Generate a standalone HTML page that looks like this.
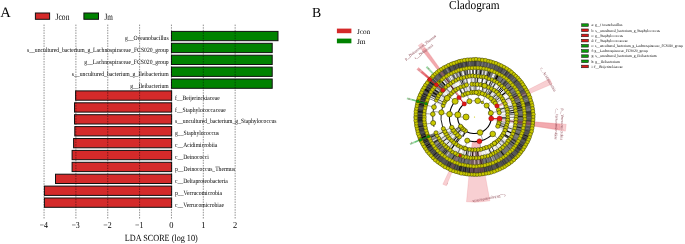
<!DOCTYPE html>
<html><head><meta charset="utf-8"><title>LEfSe</title>
<style>html,body{margin:0;padding:0;background:#fff;} svg{display:block;} text{font-family:'Liberation Serif', 'Times New Roman', serif;text-rendering:geometricPrecision;}</style>
</head><body>
<svg width="685" height="244" viewBox="0 0 685 244">
<rect width="685" height="244" fill="#fff"/>
<text x="0.30" y="16.70" font-size="14.5" text-anchor="start" fill="#000" textLength="10.60" lengthAdjust="spacingAndGlyphs">A</text>
<rect x="35.4" y="13.0" width="14.2" height="6.3" fill="#d42a2a" stroke="#111" stroke-width="1"/>
<text x="55.60" y="19.60" font-size="9.5" text-anchor="start" fill="#000" textLength="13.80" lengthAdjust="spacingAndGlyphs">Jcon</text>
<rect x="83.9" y="13.0" width="14.6" height="6.3" fill="#008200" stroke="#111" stroke-width="1"/>
<text x="104.40" y="19.60" font-size="9.5" text-anchor="start" fill="#000" textLength="8.40" lengthAdjust="spacingAndGlyphs">Jm</text>
<rect x="171.45" y="31.40" width="106.55" height="9.30" fill="#008200" stroke="#111" stroke-width="1"/>
<text x="125.10" y="40.10" font-size="6.5" text-anchor="start" fill="#000" textLength="43.50" lengthAdjust="spacingAndGlyphs">g__Oceanobacillus</text>
<rect x="171.45" y="43.30" width="100.75" height="9.30" fill="#008200" stroke="#111" stroke-width="1"/>
<text x="27.00" y="52.00" font-size="6.5" text-anchor="start" fill="#000" textLength="141.60" lengthAdjust="spacingAndGlyphs">s__uncultured_bacterium_g_Lachnospiraceae_FCS020_group</text>
<rect x="171.45" y="55.20" width="100.75" height="9.30" fill="#008200" stroke="#111" stroke-width="1"/>
<text x="84.30" y="63.90" font-size="6.5" text-anchor="start" fill="#000" textLength="84.30" lengthAdjust="spacingAndGlyphs">g__Lachnospiraceae_FCS020_group</text>
<rect x="171.45" y="67.10" width="100.75" height="9.30" fill="#008200" stroke="#111" stroke-width="1"/>
<text x="71.80" y="75.80" font-size="6.5" text-anchor="start" fill="#000" textLength="96.80" lengthAdjust="spacingAndGlyphs">s__uncultured_bacterium_g_Ileibacterium</text>
<rect x="171.45" y="79.00" width="100.75" height="9.30" fill="#008200" stroke="#111" stroke-width="1"/>
<text x="130.20" y="87.70" font-size="6.5" text-anchor="start" fill="#000" textLength="38.40" lengthAdjust="spacingAndGlyphs">g__Ileibacterium</text>
<rect x="75.60" y="90.90" width="96.05" height="9.30" fill="#d42a2a" stroke="#111" stroke-width="1"/>
<text x="175.00" y="99.60" font-size="6.5" text-anchor="start" fill="#000" textLength="44.80" lengthAdjust="spacingAndGlyphs">f__Beijerinckiaceae</text>
<rect x="74.50" y="102.80" width="97.15" height="9.30" fill="#d42a2a" stroke="#111" stroke-width="1"/>
<text x="175.00" y="111.50" font-size="6.5" text-anchor="start" fill="#000" textLength="50.70" lengthAdjust="spacingAndGlyphs">f__Staphylococcaceae</text>
<rect x="74.50" y="114.70" width="97.15" height="9.30" fill="#d42a2a" stroke="#111" stroke-width="1"/>
<text x="175.00" y="123.40" font-size="6.5" text-anchor="start" fill="#000" textLength="101.50" lengthAdjust="spacingAndGlyphs">s__uncultured_bacterium_g_Staphylococcus</text>
<rect x="74.80" y="126.60" width="96.85" height="9.30" fill="#d42a2a" stroke="#111" stroke-width="1"/>
<text x="175.00" y="135.30" font-size="6.5" text-anchor="start" fill="#000" textLength="44.00" lengthAdjust="spacingAndGlyphs">g__Staphylococcus</text>
<rect x="73.60" y="138.50" width="98.05" height="9.30" fill="#d42a2a" stroke="#111" stroke-width="1"/>
<text x="175.00" y="147.20" font-size="6.5" text-anchor="start" fill="#000" textLength="42.30" lengthAdjust="spacingAndGlyphs">c__Acidimicrobiia</text>
<rect x="72.10" y="150.40" width="99.55" height="9.30" fill="#d42a2a" stroke="#111" stroke-width="1"/>
<text x="175.00" y="159.10" font-size="6.5" text-anchor="start" fill="#000" textLength="33.90" lengthAdjust="spacingAndGlyphs">c__Deinococci</text>
<rect x="72.10" y="162.30" width="99.55" height="9.30" fill="#d42a2a" stroke="#111" stroke-width="1"/>
<text x="175.00" y="171.00" font-size="6.5" text-anchor="start" fill="#000" textLength="60.10" lengthAdjust="spacingAndGlyphs">p__Deinococcus_Thermus</text>
<rect x="55.50" y="174.20" width="116.15" height="9.30" fill="#d42a2a" stroke="#111" stroke-width="1"/>
<text x="175.00" y="182.90" font-size="6.5" text-anchor="start" fill="#000" textLength="52.80" lengthAdjust="spacingAndGlyphs">c__Deltaproteobacteria</text>
<rect x="44.40" y="186.10" width="127.25" height="9.30" fill="#d42a2a" stroke="#111" stroke-width="1"/>
<text x="175.00" y="194.80" font-size="6.5" text-anchor="start" fill="#000" textLength="47.00" lengthAdjust="spacingAndGlyphs">p__Verrucomicrobia</text>
<rect x="44.40" y="198.00" width="127.25" height="9.30" fill="#d42a2a" stroke="#111" stroke-width="1"/>
<text x="175.00" y="206.70" font-size="6.5" text-anchor="start" fill="#000" textLength="49.00" lengthAdjust="spacingAndGlyphs">c__Verrucomicrobiae</text>
<line x1="44.05" y1="24.6" x2="44.05" y2="218.6" stroke="#000" stroke-opacity="0.55" stroke-width="0.8" stroke-dasharray="1.5,1.1"/>
<text x="43.75" y="228.10" font-size="9.1" text-anchor="middle" fill="#000" textLength="8.40" lengthAdjust="spacingAndGlyphs">−4</text>
<line x1="75.90" y1="24.6" x2="75.90" y2="218.6" stroke="#000" stroke-opacity="0.55" stroke-width="0.8" stroke-dasharray="1.5,1.1"/>
<text x="75.60" y="228.10" font-size="9.1" text-anchor="middle" fill="#000" textLength="8.40" lengthAdjust="spacingAndGlyphs">−3</text>
<line x1="107.75" y1="24.6" x2="107.75" y2="218.6" stroke="#000" stroke-opacity="0.55" stroke-width="0.8" stroke-dasharray="1.5,1.1"/>
<text x="107.45" y="228.10" font-size="9.1" text-anchor="middle" fill="#000" textLength="8.40" lengthAdjust="spacingAndGlyphs">−2</text>
<line x1="139.60" y1="24.6" x2="139.60" y2="218.6" stroke="#000" stroke-opacity="0.55" stroke-width="0.8" stroke-dasharray="1.5,1.1"/>
<text x="139.30" y="228.10" font-size="9.1" text-anchor="middle" fill="#000" textLength="8.40" lengthAdjust="spacingAndGlyphs">−1</text>
<line x1="171.45" y1="24.6" x2="171.45" y2="218.6" stroke="#000" stroke-opacity="0.55" stroke-width="0.8" stroke-dasharray="1.5,1.1"/>
<text x="171.45" y="228.10" font-size="9.1" text-anchor="middle" fill="#000" textLength="4.20" lengthAdjust="spacingAndGlyphs">0</text>
<line x1="203.30" y1="24.6" x2="203.30" y2="218.6" stroke="#000" stroke-opacity="0.55" stroke-width="0.8" stroke-dasharray="1.5,1.1"/>
<text x="203.30" y="228.10" font-size="9.1" text-anchor="middle" fill="#000" textLength="4.20" lengthAdjust="spacingAndGlyphs">1</text>
<line x1="235.15" y1="24.6" x2="235.15" y2="218.6" stroke="#000" stroke-opacity="0.55" stroke-width="0.8" stroke-dasharray="1.5,1.1"/>
<text x="235.15" y="228.10" font-size="9.1" text-anchor="middle" fill="#000" textLength="4.20" lengthAdjust="spacingAndGlyphs">2</text>
<text x="124.80" y="241.20" font-size="9.4" text-anchor="start" fill="#000" textLength="73.00" lengthAdjust="spacingAndGlyphs">LDA SCORE (log 10)</text>
<text x="312.00" y="16.60" font-size="13.9" text-anchor="start" fill="#000" textLength="9.20" lengthAdjust="spacingAndGlyphs">B</text>
<text x="449.10" y="8.50" font-size="12.2" text-anchor="start" fill="#000" textLength="50.40" lengthAdjust="spacingAndGlyphs">Cladogram</text>
<rect x="336.9" y="28.6" width="14.5" height="4.6" fill="#d42a2a"/>
<text x="357.00" y="33.70" font-size="7.3" text-anchor="start" fill="#000" textLength="13.20" lengthAdjust="spacingAndGlyphs">Jcon</text>
<rect x="336.9" y="38.6" width="14.5" height="4.7" fill="#008200"/>
<text x="357.00" y="43.90" font-size="7.3" text-anchor="start" fill="#000" textLength="8.60" lengthAdjust="spacingAndGlyphs">Jm</text>
<g transform="translate(474.5,117.0) scale(1.019,1) translate(-474.5,-117.0)">
<path d="M419.28,45.55 A90.30,90.30 0 0 1 422.84,42.94 L465.35,103.88 A16.00,16.00 0 0 0 464.72,104.34 Z" fill="rgba(225,55,65,0.24)" stroke="rgba(215,60,70,0.22)" stroke-width="0.6"/>
<path d="M423.29,49.78 A84.50,84.50 0 0 1 425.67,48.04 L460.63,97.41 A24.00,24.00 0 0 0 459.96,97.91 Z" fill="rgba(225,55,65,0.24)" stroke="rgba(215,60,70,0.22)" stroke-width="0.6"/>
<path d="M548.19,78.80 A83.00,83.00 0 0 1 550.67,84.04 L496.53,107.47 A24.00,24.00 0 0 0 495.81,105.96 Z" fill="rgba(225,55,65,0.24)" stroke="rgba(215,60,70,0.22)" stroke-width="0.6"/>
<path d="M564.51,124.24 A90.30,90.30 0 0 1 563.69,131.13 L490.30,119.50 A16.00,16.00 0 0 0 490.45,118.28 Z" fill="rgba(225,55,65,0.24)" stroke="rgba(215,60,70,0.22)" stroke-width="0.6"/>
<path d="M558.69,124.22 A84.50,84.50 0 0 1 558.03,129.78 L498.22,120.63 A24.00,24.00 0 0 0 498.41,119.05 Z" fill="rgba(225,55,65,0.24)" stroke="rgba(215,60,70,0.22)" stroke-width="0.6"/>
<path d="M489.59,200.85 A85.20,85.20 0 0 1 466.63,201.84 L472.28,140.90 A24.00,24.00 0 0 0 478.75,140.62 Z" fill="rgba(225,55,65,0.24)" stroke="rgba(215,60,70,0.22)" stroke-width="0.6"/>
<path d="M446.98,185.80 A74.10,74.10 0 0 1 443.42,184.27 L457.72,153.31 A40.00,40.00 0 0 0 459.65,154.14 Z" fill="rgba(225,55,65,0.24)" stroke="rgba(215,60,70,0.22)" stroke-width="0.6"/>
<path d="M417.57,69.57 A74.10,74.10 0 0 1 419.61,67.23 L444.87,90.13 A40.00,40.00 0 0 0 443.77,91.40 Z" fill="rgba(220,50,60,0.45)"/>
<path d="M421.80,72.62 A68.90,68.90 0 0 1 423.22,70.99 L438.77,84.94 A48.00,48.00 0 0 0 437.78,86.08 Z" fill="rgba(220,50,60,0.45)"/>
<path d="M425.99,75.71 A63.70,63.70 0 0 1 426.87,74.71 L432.62,79.82 A56.00,56.00 0 0 0 431.85,80.71 Z" fill="rgba(220,50,60,0.45)"/>
<path d="M426.64,67.44 A68.90,68.90 0 0 1 428.13,66.04 L442.20,81.50 A48.00,48.00 0 0 0 441.16,82.47 Z" fill="rgba(40,170,60,0.45)"/>
<path d="M407.95,99.17 A68.90,68.90 0 0 1 408.44,97.43 L428.48,103.37 A48.00,48.00 0 0 0 428.14,104.58 Z" fill="rgba(40,170,60,0.45)"/>
<path d="M413.03,100.30 A63.70,63.70 0 0 1 413.36,99.12 L420.75,101.28 A56.00,56.00 0 0 0 420.46,102.32 Z" fill="rgba(40,170,60,0.45)"/>
<path d="M411.56,145.02 A68.90,68.90 0 0 1 410.84,143.37 L430.15,135.37 A48.00,48.00 0 0 0 430.65,136.52 Z" fill="rgba(40,170,60,0.45)"/>
<path d="M416.22,142.71 A63.70,63.70 0 0 1 415.73,141.58 L422.84,138.61 A56.00,56.00 0 0 0 423.26,139.60 Z" fill="rgba(40,170,60,0.45)"/>
<path d="M530.70,117.00 A56.20,56.20 0 1 1 530.70,116.99 L525.30,116.99 A50.80,50.80 0 1 0 525.30,117.00 Z" fill="rgb(85,85,85)"/>
<line x1="525.30" y1="117.66" x2="530.70" y2="117.73" stroke="rgb(106,106,106)" stroke-width="1.19"/>
<line x1="525.23" y1="119.59" x2="530.63" y2="119.87" stroke="rgb(92,92,92)" stroke-width="0.91"/>
<line x1="525.16" y1="120.77" x2="530.55" y2="121.17" stroke="rgb(58,58,58)" stroke-width="1.14"/>
<line x1="525.05" y1="122.06" x2="530.42" y2="122.59" stroke="rgb(113,113,113)" stroke-width="1.13"/>
<line x1="524.95" y1="122.95" x2="530.31" y2="123.59" stroke="rgb(73,73,73)" stroke-width="0.61"/>
<line x1="524.66" y1="125.04" x2="529.99" y2="125.89" stroke="rgb(123,123,123)" stroke-width="1.01"/>
<line x1="524.39" y1="126.56" x2="529.70" y2="127.57" stroke="rgb(85,85,85)" stroke-width="1.27"/>
<line x1="524.08" y1="128.07" x2="529.35" y2="129.24" stroke="rgb(113,113,113)" stroke-width="1.02"/>
<line x1="523.75" y1="129.44" x2="528.99" y2="130.76" stroke="rgb(102,102,102)" stroke-width="0.55"/>
<line x1="523.60" y1="130.02" x2="528.82" y2="131.41" stroke="rgb(65,65,65)" stroke-width="0.98"/>
<line x1="522.89" y1="132.46" x2="528.03" y2="134.10" stroke="rgb(76,76,76)" stroke-width="0.85"/>
<line x1="522.40" y1="133.93" x2="527.49" y2="135.73" stroke="rgb(101,101,101)" stroke-width="0.69"/>
<line x1="522.17" y1="134.55" x2="527.24" y2="136.41" stroke="rgb(25,25,25)" stroke-width="1.03"/>
<line x1="521.56" y1="136.13" x2="526.56" y2="138.16" stroke="rgb(60,60,60)" stroke-width="0.83"/>
<line x1="520.94" y1="137.60" x2="525.87" y2="139.79" stroke="rgb(35,35,35)" stroke-width="1.07"/>
<line x1="520.47" y1="138.61" x2="525.36" y2="140.91" stroke="rgb(54,54,54)" stroke-width="0.91"/>
<line x1="520.02" y1="139.55" x2="524.86" y2="141.94" stroke="rgb(97,97,97)" stroke-width="1.11"/>
<line x1="519.10" y1="141.32" x2="523.84" y2="143.90" stroke="rgb(62,62,62)" stroke-width="0.81"/>
<line x1="517.97" y1="143.29" x2="522.59" y2="146.08" stroke="rgb(25,25,25)" stroke-width="0.67"/>
<line x1="517.22" y1="144.49" x2="521.76" y2="147.41" stroke="rgb(31,31,31)" stroke-width="0.88"/>
<line x1="516.37" y1="145.76" x2="520.82" y2="148.82" stroke="rgb(75,75,75)" stroke-width="0.84"/>
<line x1="515.88" y1="146.46" x2="520.28" y2="149.60" stroke="rgb(50,50,50)" stroke-width="1.12"/>
<line x1="515.28" y1="147.29" x2="519.61" y2="150.51" stroke="rgb(36,36,36)" stroke-width="0.75"/>
<line x1="514.62" y1="148.16" x2="518.89" y2="151.47" stroke="rgb(77,77,77)" stroke-width="1.11"/>
<line x1="513.62" y1="149.41" x2="517.77" y2="152.86" stroke="rgb(56,56,56)" stroke-width="1.07"/>
<line x1="512.77" y1="150.40" x2="516.84" y2="153.95" stroke="rgb(84,84,84)" stroke-width="1.14"/>
<line x1="511.63" y1="151.67" x2="515.58" y2="155.35" stroke="rgb(96,96,96)" stroke-width="0.65"/>
<line x1="510.28" y1="153.06" x2="514.09" y2="156.89" stroke="rgb(41,41,41)" stroke-width="0.84"/>
<line x1="509.37" y1="153.94" x2="513.07" y2="157.87" stroke="rgb(75,75,75)" stroke-width="0.84"/>
<line x1="508.48" y1="154.76" x2="512.09" y2="158.78" stroke="rgb(59,59,59)" stroke-width="1.19"/>
<line x1="506.53" y1="156.43" x2="509.93" y2="160.62" stroke="rgb(100,100,100)" stroke-width="0.74"/>
<line x1="505.49" y1="157.25" x2="508.78" y2="161.53" stroke="rgb(51,51,51)" stroke-width="0.65"/>
<line x1="504.19" y1="158.22" x2="507.34" y2="162.60" stroke="rgb(98,98,98)" stroke-width="0.58"/>
<line x1="503.00" y1="159.05" x2="506.03" y2="163.52" stroke="rgb(52,52,52)" stroke-width="0.85"/>
<line x1="502.98" y1="159.07" x2="506.00" y2="163.54" stroke="rgb(67,67,67)" stroke-width="1.16"/>
<line x1="501.29" y1="160.16" x2="504.14" y2="164.75" stroke="rgb(34,34,34)" stroke-width="0.57"/>
<line x1="499.80" y1="161.05" x2="502.49" y2="165.74" stroke="rgb(56,56,56)" stroke-width="0.51"/>
<line x1="498.80" y1="161.61" x2="501.38" y2="166.35" stroke="rgb(83,83,83)" stroke-width="0.60"/>
<line x1="497.22" y1="162.43" x2="499.64" y2="167.26" stroke="rgb(98,98,98)" stroke-width="0.61"/>
<line x1="496.18" y1="162.94" x2="498.48" y2="167.83" stroke="rgb(44,44,44)" stroke-width="0.75"/>
<line x1="495.06" y1="163.45" x2="497.24" y2="168.39" stroke="rgb(56,56,56)" stroke-width="1.08"/>
<line x1="493.81" y1="163.99" x2="495.87" y2="168.98" stroke="rgb(95,95,95)" stroke-width="0.66"/>
<line x1="491.37" y1="164.92" x2="493.17" y2="170.01" stroke="rgb(86,86,86)" stroke-width="0.98"/>
<line x1="490.72" y1="165.14" x2="492.45" y2="170.26" stroke="rgb(38,38,38)" stroke-width="0.59"/>
<line x1="489.21" y1="165.62" x2="490.77" y2="170.79" stroke="rgb(57,57,57)" stroke-width="0.69"/>
<line x1="487.54" y1="166.10" x2="488.92" y2="171.32" stroke="rgb(57,57,57)" stroke-width="0.84"/>
<line x1="485.84" y1="166.52" x2="487.05" y2="171.78" stroke="rgb(87,87,87)" stroke-width="0.73"/>
<line x1="485.45" y1="166.60" x2="486.62" y2="171.88" stroke="rgb(33,33,33)" stroke-width="0.60"/>
<line x1="483.59" y1="166.98" x2="484.56" y2="172.29" stroke="rgb(34,34,34)" stroke-width="0.72"/>
<line x1="481.52" y1="167.31" x2="482.27" y2="172.66" stroke="rgb(51,51,51)" stroke-width="1.10"/>
<line x1="481.30" y1="167.34" x2="482.03" y2="172.69" stroke="rgb(77,77,77)" stroke-width="0.86"/>
<line x1="479.87" y1="167.52" x2="480.44" y2="172.89" stroke="rgb(47,47,47)" stroke-width="0.73"/>
<line x1="477.73" y1="167.70" x2="478.08" y2="173.09" stroke="rgb(41,41,41)" stroke-width="0.57"/>
<line x1="476.85" y1="167.75" x2="477.10" y2="173.14" stroke="rgb(82,82,82)" stroke-width="1.28"/>
<line x1="474.64" y1="167.80" x2="474.65" y2="173.20" stroke="rgb(91,91,91)" stroke-width="0.97"/>
<line x1="473.93" y1="167.80" x2="473.87" y2="173.20" stroke="rgb(29,29,29)" stroke-width="1.24"/>
<line x1="471.99" y1="167.74" x2="471.72" y2="173.13" stroke="rgb(70,70,70)" stroke-width="1.06"/>
<line x1="469.83" y1="167.58" x2="469.33" y2="172.96" stroke="rgb(27,27,27)" stroke-width="0.98"/>
<line x1="469.66" y1="167.57" x2="469.15" y2="172.94" stroke="rgb(33,33,33)" stroke-width="1.08"/>
<line x1="467.86" y1="167.36" x2="467.16" y2="172.72" stroke="rgb(34,34,34)" stroke-width="0.56"/>
<line x1="466.09" y1="167.10" x2="465.20" y2="172.43" stroke="rgb(30,30,30)" stroke-width="1.22"/>
<line x1="464.39" y1="166.78" x2="463.31" y2="172.08" stroke="rgb(41,41,41)" stroke-width="1.13"/>
<line x1="462.71" y1="166.41" x2="461.46" y2="171.67" stroke="rgb(70,70,70)" stroke-width="0.57"/>
<line x1="461.92" y1="166.22" x2="460.58" y2="171.45" stroke="rgb(34,34,34)" stroke-width="1.20"/>
<line x1="460.59" y1="165.86" x2="459.11" y2="171.05" stroke="rgb(28,28,28)" stroke-width="1.19"/>
<line x1="458.98" y1="165.37" x2="457.33" y2="170.51" stroke="rgb(73,73,73)" stroke-width="0.80"/>
<line x1="458.37" y1="165.17" x2="456.66" y2="170.29" stroke="rgb(34,34,34)" stroke-width="0.56"/>
<line x1="456.14" y1="164.37" x2="454.19" y2="169.40" stroke="rgb(57,57,57)" stroke-width="1.20"/>
<line x1="454.67" y1="163.77" x2="452.56" y2="168.74" stroke="rgb(74,74,74)" stroke-width="1.25"/>
<line x1="453.38" y1="163.20" x2="451.14" y2="168.11" stroke="rgb(83,83,83)" stroke-width="0.85"/>
<line x1="451.88" y1="162.49" x2="449.47" y2="167.32" stroke="rgb(35,35,35)" stroke-width="0.91"/>
<line x1="451.00" y1="162.04" x2="448.50" y2="166.83" stroke="rgb(64,64,64)" stroke-width="0.98"/>
<line x1="449.76" y1="161.37" x2="447.13" y2="166.09" stroke="rgb(54,54,54)" stroke-width="1.27"/>
<line x1="448.96" y1="160.91" x2="446.25" y2="165.58" stroke="rgb(87,87,87)" stroke-width="0.70"/>
<line x1="447.84" y1="160.24" x2="445.00" y2="164.84" stroke="rgb(63,63,63)" stroke-width="0.61"/>
<line x1="445.88" y1="158.97" x2="442.84" y2="163.43" stroke="rgb(91,91,91)" stroke-width="0.64"/>
<line x1="444.34" y1="157.88" x2="441.14" y2="162.23" stroke="rgb(81,81,81)" stroke-width="0.90"/>
<line x1="443.95" y1="157.59" x2="440.70" y2="161.90" stroke="rgb(76,76,76)" stroke-width="1.03"/>
<line x1="442.85" y1="156.73" x2="439.48" y2="160.96" stroke="rgb(80,80,80)" stroke-width="1.14"/>
<line x1="441.11" y1="155.28" x2="437.56" y2="159.35" stroke="rgb(50,50,50)" stroke-width="1.20"/>
<line x1="440.42" y1="154.67" x2="436.80" y2="158.68" stroke="rgb(99,99,99)" stroke-width="1.24"/>
<line x1="439.54" y1="153.85" x2="435.82" y2="157.77" stroke="rgb(42,42,42)" stroke-width="0.90"/>
<line x1="437.85" y1="152.18" x2="433.96" y2="155.92" stroke="rgb(30,30,30)" stroke-width="1.07"/>
<line x1="436.75" y1="150.99" x2="432.74" y2="154.61" stroke="rgb(60,60,60)" stroke-width="1.16"/>
<line x1="436.59" y1="150.82" x2="432.56" y2="154.41" stroke="rgb(85,85,85)" stroke-width="0.72"/>
<line x1="435.54" y1="149.60" x2="431.40" y2="153.07" stroke="rgb(57,57,57)" stroke-width="0.81"/>
<line x1="434.35" y1="148.12" x2="430.08" y2="151.43" stroke="rgb(45,45,45)" stroke-width="1.07"/>
<line x1="433.20" y1="146.58" x2="428.81" y2="149.72" stroke="rgb(62,62,62)" stroke-width="0.76"/>
<line x1="432.38" y1="145.40" x2="427.90" y2="148.41" stroke="rgb(40,40,40)" stroke-width="1.20"/>
<line x1="432.20" y1="145.14" x2="427.71" y2="148.13" stroke="rgb(40,40,40)" stroke-width="0.96"/>
<line x1="431.21" y1="143.58" x2="426.61" y2="146.41" stroke="rgb(7,7,7)" stroke-width="1.01"/>
<line x1="430.40" y1="142.21" x2="425.71" y2="144.89" stroke="rgb(29,29,29)" stroke-width="0.52"/>
<line x1="429.40" y1="140.38" x2="424.61" y2="142.87" stroke="rgb(35,35,35)" stroke-width="1.12"/>
<line x1="428.77" y1="139.12" x2="423.91" y2="141.48" stroke="rgb(19,19,19)" stroke-width="0.86"/>
<line x1="428.25" y1="138.02" x2="423.34" y2="140.26" stroke="rgb(52,52,52)" stroke-width="1.27"/>
<line x1="427.64" y1="136.62" x2="422.66" y2="138.70" stroke="rgb(30,30,30)" stroke-width="1.16"/>
<line x1="427.32" y1="135.85" x2="422.31" y2="137.85" stroke="rgb(6,6,6)" stroke-width="1.10"/>
<line x1="426.67" y1="134.10" x2="421.58" y2="135.92" stroke="rgb(9,9,9)" stroke-width="0.64"/>
<line x1="426.31" y1="133.09" x2="421.19" y2="134.80" stroke="rgb(49,49,49)" stroke-width="0.93"/>
<line x1="425.60" y1="130.75" x2="420.40" y2="132.22" stroke="rgb(69,69,69)" stroke-width="0.99"/>
<line x1="425.29" y1="129.61" x2="420.06" y2="130.96" stroke="rgb(55,55,55)" stroke-width="1.18"/>
<line x1="424.97" y1="128.28" x2="419.70" y2="129.48" stroke="rgb(33,33,33)" stroke-width="0.57"/>
<line x1="424.60" y1="126.52" x2="419.30" y2="127.53" stroke="rgb(54,54,54)" stroke-width="0.60"/>
<line x1="424.46" y1="125.77" x2="419.14" y2="126.71" stroke="rgb(5,5,5)" stroke-width="0.80"/>
<line x1="424.21" y1="124.17" x2="418.86" y2="124.93" stroke="rgb(69,69,69)" stroke-width="1.14"/>
<line x1="423.96" y1="122.18" x2="418.59" y2="122.73" stroke="rgb(64,64,64)" stroke-width="0.76"/>
<line x1="423.83" y1="120.67" x2="418.45" y2="121.06" stroke="rgb(17,17,17)" stroke-width="1.08"/>
<line x1="423.76" y1="119.45" x2="418.37" y2="119.72" stroke="rgb(20,20,20)" stroke-width="0.67"/>
<line x1="423.71" y1="117.88" x2="418.31" y2="117.97" stroke="rgb(16,16,16)" stroke-width="1.28"/>
<line x1="423.70" y1="116.95" x2="418.30" y2="116.95" stroke="rgb(46,46,46)" stroke-width="0.71"/>
<line x1="423.73" y1="115.23" x2="418.33" y2="115.04" stroke="rgb(7,7,7)" stroke-width="0.78"/>
<line x1="423.75" y1="114.70" x2="418.36" y2="114.45" stroke="rgb(61,61,61)" stroke-width="0.77"/>
<line x1="423.88" y1="112.75" x2="418.50" y2="112.30" stroke="rgb(40,40,40)" stroke-width="0.89"/>
<line x1="423.96" y1="111.87" x2="418.59" y2="111.33" stroke="rgb(13,13,13)" stroke-width="0.84"/>
<line x1="424.13" y1="110.41" x2="418.77" y2="109.71" stroke="rgb(47,47,47)" stroke-width="1.05"/>
<line x1="424.56" y1="107.71" x2="419.25" y2="106.72" stroke="rgb(65,65,65)" stroke-width="0.62"/>
<line x1="424.72" y1="106.85" x2="419.43" y2="105.77" stroke="rgb(61,61,61)" stroke-width="1.26"/>
<line x1="425.03" y1="105.46" x2="419.77" y2="104.23" stroke="rgb(16,16,16)" stroke-width="1.11"/>
<line x1="425.36" y1="104.12" x2="420.14" y2="102.75" stroke="rgb(42,42,42)" stroke-width="1.16"/>
<line x1="425.80" y1="102.54" x2="420.62" y2="101.01" stroke="rgb(26,26,26)" stroke-width="0.92"/>
<line x1="426.37" y1="100.76" x2="421.25" y2="99.04" stroke="rgb(37,37,37)" stroke-width="0.75"/>
<line x1="426.62" y1="100.02" x2="421.53" y2="98.22" stroke="rgb(31,31,31)" stroke-width="0.74"/>
<line x1="427.00" y1="98.98" x2="421.95" y2="97.07" stroke="rgb(39,39,39)" stroke-width="0.96"/>
<line x1="427.57" y1="97.55" x2="422.58" y2="95.48" stroke="rgb(19,19,19)" stroke-width="0.90"/>
<line x1="428.39" y1="95.67" x2="423.49" y2="93.40" stroke="rgb(8,8,8)" stroke-width="0.93"/>
<line x1="428.67" y1="95.09" x2="423.79" y2="92.76" stroke="rgb(56,56,56)" stroke-width="0.94"/>
<line x1="429.96" y1="92.57" x2="425.23" y2="89.97" stroke="rgb(20,20,20)" stroke-width="0.89"/>
<line x1="430.46" y1="91.68" x2="425.78" y2="88.99" stroke="rgb(13,13,13)" stroke-width="1.24"/>
<line x1="431.03" y1="90.71" x2="426.41" y2="87.92" stroke="rgb(56,56,56)" stroke-width="0.72"/>
<line x1="431.81" y1="89.46" x2="427.27" y2="86.53" stroke="rgb(21,21,21)" stroke-width="0.77"/>
<line x1="432.98" y1="87.74" x2="428.56" y2="84.63" stroke="rgb(65,65,65)" stroke-width="0.92"/>
<line x1="433.15" y1="87.49" x2="428.76" y2="84.35" stroke="rgb(58,58,58)" stroke-width="0.99"/>
<line x1="434.74" y1="85.38" x2="430.52" y2="82.01" stroke="rgb(21,21,21)" stroke-width="1.06"/>
<line x1="435.72" y1="84.19" x2="431.59" y2="80.70" stroke="rgb(39,39,39)" stroke-width="0.66"/>
<line x1="435.95" y1="83.91" x2="431.86" y2="80.40" stroke="rgb(122,122,122)" stroke-width="0.73"/>
<line x1="437.41" y1="82.29" x2="433.47" y2="78.60" stroke="rgb(66,66,66)" stroke-width="1.00"/>
<line x1="437.79" y1="81.89" x2="433.89" y2="78.15" stroke="rgb(128,128,128)" stroke-width="0.97"/>
<line x1="439.60" y1="80.09" x2="435.89" y2="76.17" stroke="rgb(114,114,114)" stroke-width="0.70"/>
<line x1="439.96" y1="79.75" x2="436.29" y2="75.79" stroke="rgb(102,102,102)" stroke-width="1.20"/>
<line x1="440.86" y1="78.94" x2="437.28" y2="74.89" stroke="rgb(116,116,116)" stroke-width="0.83"/>
<line x1="442.53" y1="77.52" x2="439.13" y2="73.32" stroke="rgb(55,55,55)" stroke-width="0.93"/>
<line x1="444.07" y1="76.33" x2="440.83" y2="72.00" stroke="rgb(103,103,103)" stroke-width="1.01"/>
<line x1="444.85" y1="75.75" x2="441.70" y2="71.37" stroke="rgb(104,104,104)" stroke-width="0.99"/>
<line x1="446.44" y1="74.65" x2="443.46" y2="70.15" stroke="rgb(64,64,64)" stroke-width="1.23"/>
<line x1="447.38" y1="74.04" x2="444.50" y2="69.48" stroke="rgb(79,79,79)" stroke-width="1.22"/>
<line x1="448.24" y1="73.52" x2="445.44" y2="68.89" stroke="rgb(75,75,75)" stroke-width="1.21"/>
<line x1="449.34" y1="72.87" x2="446.67" y2="68.18" stroke="rgb(134,134,134)" stroke-width="1.30"/>
<line x1="451.51" y1="71.70" x2="449.07" y2="66.88" stroke="rgb(52,52,52)" stroke-width="1.21"/>
<line x1="451.83" y1="71.54" x2="449.42" y2="66.71" stroke="rgb(46,46,46)" stroke-width="0.71"/>
<line x1="453.10" y1="70.93" x2="450.82" y2="66.03" stroke="rgb(88,88,88)" stroke-width="0.93"/>
<line x1="455.25" y1="69.99" x2="453.20" y2="64.99" stroke="rgb(60,60,60)" stroke-width="0.82"/>
<line x1="456.58" y1="69.47" x2="454.67" y2="64.41" stroke="rgb(37,37,37)" stroke-width="0.58"/>
<line x1="457.79" y1="69.03" x2="456.01" y2="63.93" stroke="rgb(80,80,80)" stroke-width="1.23"/>
<line x1="459.73" y1="68.40" x2="458.15" y2="63.23" stroke="rgb(49,49,49)" stroke-width="1.06"/>
<line x1="460.66" y1="68.12" x2="459.19" y2="62.93" stroke="rgb(78,78,78)" stroke-width="0.90"/>
<line x1="462.14" y1="67.73" x2="460.82" y2="62.49" stroke="rgb(59,59,59)" stroke-width="1.14"/>
<line x1="463.27" y1="67.46" x2="462.07" y2="62.19" stroke="rgb(38,38,38)" stroke-width="0.53"/>
<line x1="464.79" y1="67.14" x2="463.76" y2="61.84" stroke="rgb(100,100,100)" stroke-width="1.22"/>
<line x1="466.12" y1="66.90" x2="465.23" y2="61.57" stroke="rgb(59,59,59)" stroke-width="0.65"/>
<line x1="467.16" y1="66.73" x2="466.39" y2="61.39" stroke="rgb(55,55,55)" stroke-width="1.29"/>
<line x1="469.66" y1="66.43" x2="469.14" y2="61.06" stroke="rgb(47,47,47)" stroke-width="0.96"/>
<line x1="469.96" y1="66.40" x2="469.48" y2="61.03" stroke="rgb(122,122,122)" stroke-width="0.87"/>
<line x1="472.33" y1="66.25" x2="472.10" y2="60.85" stroke="rgb(76,76,76)" stroke-width="0.81"/>
<line x1="473.29" y1="66.21" x2="473.16" y2="60.82" stroke="rgb(80,80,80)" stroke-width="0.84"/>
<line x1="475.00" y1="66.20" x2="475.06" y2="60.80" stroke="rgb(36,36,36)" stroke-width="1.01"/>
<line x1="475.65" y1="66.21" x2="475.77" y2="60.81" stroke="rgb(60,60,60)" stroke-width="0.65"/>
<line x1="477.70" y1="66.30" x2="478.04" y2="60.91" stroke="rgb(129,129,129)" stroke-width="0.80"/>
<line x1="479.83" y1="66.48" x2="480.40" y2="61.11" stroke="rgb(112,112,112)" stroke-width="0.63"/>
<line x1="480.69" y1="66.58" x2="481.35" y2="61.22" stroke="rgb(36,36,36)" stroke-width="0.76"/>
<line x1="481.52" y1="66.69" x2="482.26" y2="61.34" stroke="rgb(125,125,125)" stroke-width="1.20"/>
<line x1="484.14" y1="67.12" x2="485.16" y2="61.82" stroke="rgb(86,86,86)" stroke-width="0.96"/>
<line x1="484.54" y1="67.20" x2="485.61" y2="61.91" stroke="rgb(109,109,109)" stroke-width="1.29"/>
<line x1="486.84" y1="67.72" x2="488.15" y2="62.48" stroke="rgb(68,68,68)" stroke-width="0.72"/>
<line x1="487.28" y1="67.83" x2="488.63" y2="62.61" stroke="rgb(130,130,130)" stroke-width="1.12"/>
<line x1="489.66" y1="68.51" x2="491.27" y2="63.36" stroke="rgb(86,86,86)" stroke-width="0.61"/>
<line x1="490.37" y1="68.74" x2="492.06" y2="63.61" stroke="rgb(103,103,103)" stroke-width="1.06"/>
<line x1="492.35" y1="69.44" x2="494.24" y2="64.38" stroke="rgb(132,132,132)" stroke-width="0.65"/>
<line x1="492.95" y1="69.67" x2="494.91" y2="64.64" stroke="rgb(58,58,58)" stroke-width="0.56"/>
<line x1="494.48" y1="70.29" x2="496.60" y2="65.33" stroke="rgb(95,95,95)" stroke-width="0.58"/>
<line x1="496.53" y1="71.22" x2="498.87" y2="66.36" stroke="rgb(116,116,116)" stroke-width="1.22"/>
<line x1="496.74" y1="71.33" x2="499.10" y2="66.47" stroke="rgb(69,69,69)" stroke-width="1.26"/>
<line x1="498.83" y1="72.41" x2="501.42" y2="67.67" stroke="rgb(78,78,78)" stroke-width="0.67"/>
<line x1="499.78" y1="72.93" x2="502.46" y2="68.25" stroke="rgb(58,58,58)" stroke-width="0.93"/>
<line x1="501.01" y1="73.66" x2="503.83" y2="69.06" stroke="rgb(98,98,98)" stroke-width="1.01"/>
<line x1="502.62" y1="74.69" x2="505.61" y2="70.20" stroke="rgb(132,132,132)" stroke-width="0.82"/>
<line x1="503.67" y1="75.41" x2="506.77" y2="70.99" stroke="rgb(49,49,49)" stroke-width="0.99"/>
<line x1="505.04" y1="76.41" x2="508.29" y2="72.09" stroke="rgb(67,67,67)" stroke-width="0.85"/>
<line x1="505.93" y1="77.09" x2="509.27" y2="72.85" stroke="rgb(132,132,132)" stroke-width="0.66"/>
<line x1="506.92" y1="77.89" x2="510.36" y2="73.73" stroke="rgb(47,47,47)" stroke-width="0.71"/>
<line x1="507.91" y1="78.74" x2="511.47" y2="74.67" stroke="rgb(78,78,78)" stroke-width="0.94"/>
<line x1="509.25" y1="79.94" x2="512.94" y2="76.00" stroke="rgb(101,101,101)" stroke-width="0.95"/>
<line x1="510.79" y1="81.46" x2="514.65" y2="77.68" stroke="rgb(116,116,116)" stroke-width="0.86"/>
<line x1="511.45" y1="82.14" x2="515.38" y2="78.43" stroke="rgb(105,105,105)" stroke-width="0.98"/>
<line x1="512.55" y1="83.34" x2="516.59" y2="79.76" stroke="rgb(40,40,40)" stroke-width="0.81"/>
<line x1="513.66" y1="84.64" x2="517.83" y2="81.21" stroke="rgb(84,84,84)" stroke-width="0.88"/>
<line x1="513.88" y1="84.90" x2="518.06" y2="81.49" stroke="rgb(98,98,98)" stroke-width="0.93"/>
<line x1="515.16" y1="86.54" x2="519.48" y2="83.31" stroke="rgb(89,89,89)" stroke-width="1.26"/>
<line x1="515.87" y1="87.51" x2="520.26" y2="84.38" stroke="rgb(102,102,102)" stroke-width="0.82"/>
<line x1="516.61" y1="88.58" x2="521.08" y2="85.56" stroke="rgb(102,102,102)" stroke-width="0.73"/>
<line x1="517.67" y1="90.22" x2="522.26" y2="87.38" stroke="rgb(106,106,106)" stroke-width="1.24"/>
<line x1="518.43" y1="91.48" x2="523.10" y2="88.77" stroke="rgb(130,130,130)" stroke-width="0.74"/>
<line x1="518.68" y1="91.93" x2="523.38" y2="89.26" stroke="rgb(66,66,66)" stroke-width="0.97"/>
<line x1="519.80" y1="94.01" x2="524.61" y2="91.56" stroke="rgb(87,87,87)" stroke-width="1.10"/>
<line x1="520.29" y1="94.99" x2="525.15" y2="92.66" stroke="rgb(75,75,75)" stroke-width="1.10"/>
<line x1="520.69" y1="95.87" x2="525.61" y2="93.62" stroke="rgb(127,127,127)" stroke-width="1.26"/>
<line x1="521.30" y1="97.23" x2="526.27" y2="95.13" stroke="rgb(63,63,63)" stroke-width="0.84"/>
<line x1="522.05" y1="99.13" x2="527.11" y2="97.23" stroke="rgb(131,131,131)" stroke-width="0.69"/>
<line x1="522.57" y1="100.57" x2="527.68" y2="98.82" stroke="rgb(138,138,138)" stroke-width="1.08"/>
<line x1="523.00" y1="101.87" x2="528.15" y2="100.27" stroke="rgb(139,139,139)" stroke-width="0.70"/>
<line x1="523.50" y1="103.61" x2="528.71" y2="102.18" stroke="rgb(41,41,41)" stroke-width="1.00"/>
<line x1="523.78" y1="104.66" x2="529.02" y2="103.35" stroke="rgb(61,61,61)" stroke-width="1.19"/>
<line x1="524.08" y1="105.94" x2="529.35" y2="104.77" stroke="rgb(54,54,54)" stroke-width="0.60"/>
<line x1="524.40" y1="107.49" x2="529.71" y2="106.48" stroke="rgb(120,120,120)" stroke-width="0.83"/>
<line x1="524.69" y1="109.15" x2="530.03" y2="108.32" stroke="rgb(116,116,116)" stroke-width="0.97"/>
<line x1="524.86" y1="110.33" x2="530.21" y2="109.63" stroke="rgb(134,134,134)" stroke-width="1.10"/>
<line x1="525.09" y1="112.36" x2="530.46" y2="111.86" stroke="rgb(52,52,52)" stroke-width="1.26"/>
<line x1="525.19" y1="113.69" x2="530.58" y2="113.34" stroke="rgb(65,65,65)" stroke-width="0.88"/>
<line x1="525.25" y1="114.81" x2="530.65" y2="114.58" stroke="rgb(74,74,74)" stroke-width="1.13"/>
<line x1="525.30" y1="116.44" x2="530.70" y2="116.39" stroke="rgb(80,80,80)" stroke-width="0.72"/>
<path d="M430.37,99.17 A47.60,47.60 0 1 1 430.37,134.83 L434.91,133.00 A42.70,42.70 0 1 0 434.91,101.00 Z" fill="rgb(120,120,120)"/>
<line x1="435.33" y1="99.99" x2="430.84" y2="98.04" stroke="rgb(255,255,255)" stroke-width="0.95"/>
<line x1="436.07" y1="98.39" x2="431.66" y2="96.25" stroke="rgb(255,255,255)" stroke-width="0.72"/>
<line x1="436.59" y1="97.35" x2="432.24" y2="95.09" stroke="rgb(20,20,20)" stroke-width="0.90"/>
<line x1="437.83" y1="95.13" x2="433.62" y2="92.62" stroke="rgb(20,20,20)" stroke-width="1.20"/>
<line x1="438.19" y1="94.53" x2="434.02" y2="91.96" stroke="rgb(0,0,0)" stroke-width="0.51"/>
<line x1="439.39" y1="92.70" x2="435.36" y2="89.91" stroke="rgb(0,0,0)" stroke-width="1.00"/>
<line x1="440.27" y1="91.47" x2="436.35" y2="88.54" stroke="rgb(255,255,255)" stroke-width="0.72"/>
<line x1="442.13" y1="89.15" x2="438.42" y2="85.95" stroke="rgb(255,255,255)" stroke-width="0.63"/>
<line x1="442.70" y1="88.50" x2="439.05" y2="85.23" stroke="rgb(40,40,40)" stroke-width="0.89"/>
<line x1="444.08" y1="87.04" x2="440.59" y2="83.60" stroke="rgb(40,40,40)" stroke-width="0.77"/>
<line x1="445.88" y1="85.31" x2="442.60" y2="81.67" stroke="rgb(0,0,0)" stroke-width="1.14"/>
<line x1="446.83" y1="84.48" x2="443.66" y2="80.74" stroke="rgb(255,255,255)" stroke-width="1.17"/>
<line x1="448.68" y1="82.99" x2="445.72" y2="79.08" stroke="rgb(230,230,230)" stroke-width="0.84"/>
<line x1="449.39" y1="82.46" x2="446.51" y2="78.50" stroke="rgb(20,20,20)" stroke-width="0.80"/>
<line x1="451.46" y1="81.05" x2="448.82" y2="76.92" stroke="rgb(255,255,255)" stroke-width="0.76"/>
<line x1="452.83" y1="80.21" x2="450.35" y2="75.98" stroke="rgb(255,255,255)" stroke-width="1.16"/>
<line x1="453.82" y1="79.64" x2="451.45" y2="75.35" stroke="rgb(255,255,255)" stroke-width="0.80"/>
<line x1="455.28" y1="78.87" x2="453.07" y2="74.50" stroke="rgb(40,40,40)" stroke-width="0.56"/>
<line x1="456.87" y1="78.11" x2="454.85" y2="73.64" stroke="rgb(255,255,255)" stroke-width="0.95"/>
<line x1="459.75" y1="76.93" x2="458.06" y2="72.33" stroke="rgb(230,230,230)" stroke-width="0.74"/>
<line x1="461.39" y1="76.36" x2="459.88" y2="71.70" stroke="rgb(0,0,0)" stroke-width="0.75"/>
<line x1="463.34" y1="75.78" x2="462.06" y2="71.05" stroke="rgb(255,255,255)" stroke-width="0.57"/>
<line x1="464.03" y1="75.60" x2="462.82" y2="70.85" stroke="rgb(255,255,255)" stroke-width="1.11"/>
<line x1="465.82" y1="75.19" x2="464.82" y2="70.39" stroke="rgb(20,20,20)" stroke-width="0.68"/>
<line x1="468.17" y1="74.77" x2="467.45" y2="69.93" stroke="rgb(40,40,40)" stroke-width="0.79"/>
<line x1="468.99" y1="74.66" x2="468.36" y2="69.80" stroke="rgb(255,255,255)" stroke-width="0.85"/>
<line x1="471.63" y1="74.40" x2="471.31" y2="69.51" stroke="rgb(255,255,255)" stroke-width="1.23"/>
<line x1="473.15" y1="74.32" x2="472.99" y2="69.42" stroke="rgb(40,40,40)" stroke-width="0.87"/>
<line x1="474.56" y1="74.30" x2="474.56" y2="69.40" stroke="rgb(255,255,255)" stroke-width="1.22"/>
<line x1="476.40" y1="74.34" x2="476.62" y2="69.45" stroke="rgb(40,40,40)" stroke-width="1.16"/>
<line x1="477.79" y1="74.43" x2="478.17" y2="69.54" stroke="rgb(255,255,255)" stroke-width="0.82"/>
<line x1="480.23" y1="74.69" x2="480.89" y2="69.83" stroke="rgb(20,20,20)" stroke-width="1.09"/>
<line x1="481.97" y1="74.96" x2="482.83" y2="70.13" stroke="rgb(230,230,230)" stroke-width="0.93"/>
<line x1="484.56" y1="75.50" x2="485.71" y2="70.74" stroke="rgb(255,255,255)" stroke-width="0.64"/>
<line x1="485.00" y1="75.61" x2="486.20" y2="70.86" stroke="rgb(230,230,230)" stroke-width="1.20"/>
<line x1="487.06" y1="76.19" x2="488.50" y2="71.51" stroke="rgb(0,0,0)" stroke-width="0.68"/>
<line x1="488.39" y1="76.62" x2="489.98" y2="71.99" stroke="rgb(20,20,20)" stroke-width="0.95"/>
<line x1="491.58" y1="77.87" x2="493.54" y2="73.38" stroke="rgb(255,255,255)" stroke-width="1.17"/>
<line x1="492.33" y1="78.20" x2="494.38" y2="73.75" stroke="rgb(255,255,255)" stroke-width="0.94"/>
<line x1="494.53" y1="79.29" x2="496.83" y2="74.96" stroke="rgb(0,0,0)" stroke-width="0.77"/>
<line x1="495.30" y1="79.71" x2="497.68" y2="75.43" stroke="rgb(0,0,0)" stroke-width="1.22"/>
<line x1="496.56" y1="80.44" x2="499.09" y2="76.24" stroke="rgb(96,96,96)" stroke-width="1.02"/>
<line x1="498.10" y1="81.41" x2="500.81" y2="77.33" stroke="rgb(119,119,119)" stroke-width="1.02"/>
<line x1="499.79" y1="82.59" x2="502.69" y2="78.65" stroke="rgb(43,43,43)" stroke-width="0.89"/>
<line x1="502.13" y1="84.45" x2="505.30" y2="80.71" stroke="rgb(58,58,58)" stroke-width="1.11"/>
<line x1="502.79" y1="85.02" x2="506.04" y2="81.35" stroke="rgb(58,58,58)" stroke-width="1.15"/>
<line x1="504.04" y1="86.16" x2="507.43" y2="82.62" stroke="rgb(32,32,32)" stroke-width="0.89"/>
<line x1="505.56" y1="87.70" x2="509.13" y2="84.34" stroke="rgb(107,107,107)" stroke-width="0.56"/>
<line x1="506.86" y1="89.14" x2="510.57" y2="85.95" stroke="rgb(20,20,20)" stroke-width="0.83"/>
<line x1="508.24" y1="90.82" x2="512.11" y2="87.82" stroke="rgb(100,100,100)" stroke-width="0.78"/>
<line x1="508.43" y1="91.08" x2="512.32" y2="88.10" stroke="rgb(63,63,63)" stroke-width="1.17"/>
<line x1="510.38" y1="93.85" x2="514.50" y2="91.19" stroke="rgb(84,84,84)" stroke-width="1.01"/>
<line x1="510.98" y1="94.82" x2="515.17" y2="92.27" stroke="rgb(105,105,105)" stroke-width="0.51"/>
<line x1="511.52" y1="95.72" x2="515.77" y2="93.28" stroke="rgb(68,68,68)" stroke-width="1.23"/>
<line x1="512.50" y1="97.52" x2="516.86" y2="95.28" stroke="rgb(35,35,35)" stroke-width="1.29"/>
<line x1="513.38" y1="99.35" x2="517.84" y2="97.32" stroke="rgb(36,36,36)" stroke-width="0.76"/>
<line x1="514.10" y1="101.02" x2="518.64" y2="99.19" stroke="rgb(82,82,82)" stroke-width="0.73"/>
<line x1="515.07" y1="103.69" x2="519.73" y2="102.16" stroke="rgb(22,22,22)" stroke-width="0.88"/>
<line x1="515.48" y1="104.99" x2="520.18" y2="103.62" stroke="rgb(53,53,53)" stroke-width="1.02"/>
<line x1="515.97" y1="106.81" x2="520.72" y2="105.64" stroke="rgb(37,37,37)" stroke-width="1.23"/>
<line x1="516.35" y1="108.52" x2="521.15" y2="107.55" stroke="rgb(17,17,17)" stroke-width="0.97"/>
<line x1="516.71" y1="110.57" x2="521.56" y2="109.83" stroke="rgb(19,19,19)" stroke-width="0.75"/>
<line x1="516.79" y1="111.08" x2="521.64" y2="110.40" stroke="rgb(60,60,60)" stroke-width="0.67"/>
<line x1="517.01" y1="112.94" x2="521.88" y2="112.47" stroke="rgb(106,106,106)" stroke-width="0.88"/>
<line x1="517.16" y1="115.22" x2="522.06" y2="115.01" stroke="rgb(71,71,71)" stroke-width="0.65"/>
<line x1="517.20" y1="116.61" x2="522.10" y2="116.56" stroke="rgb(37,37,37)" stroke-width="1.23"/>
<line x1="517.12" y1="119.58" x2="522.01" y2="119.88" stroke="rgb(95,95,95)" stroke-width="0.94"/>
<line x1="517.00" y1="121.16" x2="521.87" y2="121.64" stroke="rgb(76,76,76)" stroke-width="1.18"/>
<line x1="516.86" y1="122.35" x2="521.72" y2="122.97" stroke="rgb(66,66,66)" stroke-width="1.23"/>
<line x1="516.64" y1="123.88" x2="521.48" y2="124.67" stroke="rgb(85,85,85)" stroke-width="1.12"/>
<line x1="516.40" y1="125.20" x2="521.21" y2="126.15" stroke="rgb(125,125,125)" stroke-width="0.68"/>
<line x1="516.04" y1="126.89" x2="520.81" y2="128.02" stroke="rgb(32,32,32)" stroke-width="1.14"/>
<line x1="515.42" y1="129.20" x2="520.11" y2="130.61" stroke="rgb(82,82,82)" stroke-width="1.14"/>
<line x1="514.64" y1="131.58" x2="519.24" y2="133.25" stroke="rgb(115,115,115)" stroke-width="1.29"/>
<line x1="514.07" y1="133.06" x2="518.61" y2="134.90" stroke="rgb(45,45,45)" stroke-width="1.21"/>
<line x1="513.19" y1="135.06" x2="517.63" y2="137.14" stroke="rgb(130,130,130)" stroke-width="0.80"/>
<line x1="512.46" y1="136.55" x2="516.82" y2="138.79" stroke="rgb(106,106,106)" stroke-width="0.84"/>
<line x1="511.53" y1="138.25" x2="515.78" y2="140.69" stroke="rgb(68,68,68)" stroke-width="0.63"/>
<line x1="511.13" y1="138.95" x2="515.33" y2="141.47" stroke="rgb(48,48,48)" stroke-width="1.23"/>
<line x1="509.68" y1="141.20" x2="513.72" y2="143.97" stroke="rgb(31,31,31)" stroke-width="1.01"/>
<line x1="508.43" y1="142.92" x2="512.33" y2="145.89" stroke="rgb(49,49,49)" stroke-width="0.91"/>
<line x1="508.37" y1="143.00" x2="512.26" y2="145.99" stroke="rgb(88,88,88)" stroke-width="1.12"/>
<line x1="507.30" y1="144.34" x2="511.07" y2="147.47" stroke="rgb(120,120,120)" stroke-width="1.23"/>
<line x1="505.94" y1="145.89" x2="509.55" y2="149.20" stroke="rgb(31,31,31)" stroke-width="0.57"/>
<line x1="504.55" y1="147.34" x2="508.00" y2="150.82" stroke="rgb(106,106,106)" stroke-width="0.92"/>
<line x1="502.41" y1="149.32" x2="505.61" y2="153.02" stroke="rgb(103,103,103)" stroke-width="0.87"/>
<line x1="500.93" y1="150.54" x2="503.97" y2="154.38" stroke="rgb(90,90,90)" stroke-width="0.93"/>
<line x1="500.15" y1="151.14" x2="503.09" y2="155.06" stroke="rgb(17,17,17)" stroke-width="1.13"/>
<line x1="498.82" y1="152.10" x2="501.61" y2="156.12" stroke="rgb(102,102,102)" stroke-width="0.57"/>
<line x1="496.70" y1="153.48" x2="499.24" y2="157.66" stroke="rgb(41,41,41)" stroke-width="0.53"/>
<line x1="495.79" y1="154.01" x2="498.23" y2="158.26" stroke="rgb(100,100,100)" stroke-width="0.63"/>
<line x1="493.54" y1="155.22" x2="495.73" y2="159.61" stroke="rgb(70,70,70)" stroke-width="0.75"/>
<line x1="492.61" y1="155.67" x2="494.69" y2="160.11" stroke="rgb(160,160,160)" stroke-width="0.74"/>
<line x1="490.87" y1="156.44" x2="492.74" y2="160.96" stroke="rgb(230,230,230)" stroke-width="0.55"/>
<line x1="489.85" y1="156.84" x2="491.61" y2="161.42" stroke="rgb(40,40,40)" stroke-width="0.58"/>
<line x1="487.62" y1="157.64" x2="489.12" y2="162.30" stroke="rgb(100,100,100)" stroke-width="1.10"/>
<line x1="485.22" y1="158.33" x2="486.45" y2="163.08" stroke="rgb(20,20,20)" stroke-width="1.02"/>
<line x1="484.82" y1="158.43" x2="486.00" y2="163.19" stroke="rgb(100,100,100)" stroke-width="1.07"/>
<line x1="482.25" y1="158.99" x2="483.14" y2="163.81" stroke="rgb(70,70,70)" stroke-width="0.95"/>
<line x1="480.51" y1="159.28" x2="481.20" y2="164.13" stroke="rgb(20,20,20)" stroke-width="1.18"/>
<line x1="478.03" y1="159.55" x2="478.43" y2="164.44" stroke="rgb(230,230,230)" stroke-width="0.67"/>
<line x1="476.65" y1="159.65" x2="476.89" y2="164.54" stroke="rgb(70,70,70)" stroke-width="1.00"/>
<line x1="474.27" y1="159.70" x2="474.24" y2="164.60" stroke="rgb(230,230,230)" stroke-width="0.74"/>
<line x1="473.55" y1="159.69" x2="473.44" y2="164.59" stroke="rgb(100,100,100)" stroke-width="0.94"/>
<line x1="472.21" y1="159.64" x2="471.94" y2="164.53" stroke="rgb(40,40,40)" stroke-width="0.66"/>
<line x1="469.26" y1="159.38" x2="468.66" y2="164.24" stroke="rgb(70,70,70)" stroke-width="0.75"/>
<line x1="468.30" y1="159.25" x2="467.58" y2="164.09" stroke="rgb(100,100,100)" stroke-width="1.08"/>
<line x1="466.42" y1="158.93" x2="465.49" y2="163.74" stroke="rgb(100,100,100)" stroke-width="0.57"/>
<line x1="465.00" y1="158.63" x2="463.91" y2="163.41" stroke="rgb(20,20,20)" stroke-width="0.61"/>
<line x1="462.41" y1="157.95" x2="461.02" y2="162.65" stroke="rgb(40,40,40)" stroke-width="0.64"/>
<line x1="461.08" y1="157.54" x2="459.54" y2="162.19" stroke="rgb(100,100,100)" stroke-width="0.97"/>
<line x1="459.91" y1="157.13" x2="458.24" y2="161.74" stroke="rgb(40,40,40)" stroke-width="0.53"/>
<line x1="456.76" y1="155.84" x2="454.72" y2="160.30" stroke="rgb(100,100,100)" stroke-width="0.83"/>
<line x1="456.62" y1="155.78" x2="454.57" y2="160.23" stroke="rgb(100,100,100)" stroke-width="1.24"/>
<line x1="454.90" y1="154.93" x2="452.65" y2="159.29" stroke="rgb(40,40,40)" stroke-width="1.11"/>
<line x1="452.26" y1="153.45" x2="449.71" y2="157.64" stroke="rgb(100,100,100)" stroke-width="0.89"/>
<line x1="450.60" y1="152.38" x2="447.86" y2="156.44" stroke="rgb(160,160,160)" stroke-width="0.51"/>
<line x1="449.89" y1="151.89" x2="447.06" y2="155.90" stroke="rgb(230,230,230)" stroke-width="0.75"/>
<line x1="447.89" y1="150.40" x2="444.84" y2="154.23" stroke="rgb(40,40,40)" stroke-width="1.03"/>
<line x1="446.76" y1="149.46" x2="443.57" y2="153.18" stroke="rgb(20,20,20)" stroke-width="0.71"/>
<line x1="445.97" y1="148.77" x2="442.70" y2="152.42" stroke="rgb(70,70,70)" stroke-width="1.02"/>
<line x1="444.77" y1="147.65" x2="441.35" y2="151.16" stroke="rgb(100,100,100)" stroke-width="0.66"/>
<line x1="443.22" y1="146.07" x2="439.64" y2="149.41" stroke="rgb(70,70,70)" stroke-width="1.16"/>
<line x1="441.71" y1="144.35" x2="437.94" y2="147.48" stroke="rgb(40,40,40)" stroke-width="0.70"/>
<line x1="440.66" y1="143.04" x2="436.78" y2="146.03" stroke="rgb(70,70,70)" stroke-width="0.94"/>
<line x1="439.79" y1="141.87" x2="435.81" y2="144.72" stroke="rgb(160,160,160)" stroke-width="0.91"/>
<line x1="438.56" y1="140.05" x2="434.43" y2="142.70" stroke="rgb(40,40,40)" stroke-width="1.29"/>
<line x1="437.67" y1="138.61" x2="433.45" y2="141.09" stroke="rgb(230,230,230)" stroke-width="1.07"/>
<line x1="436.45" y1="136.37" x2="432.08" y2="138.59" stroke="rgb(160,160,160)" stroke-width="1.26"/>
<line x1="435.90" y1="135.26" x2="431.47" y2="137.35" stroke="rgb(40,40,40)" stroke-width="1.12"/>
<line x1="435.52" y1="134.42" x2="431.04" y2="136.42" stroke="rgb(100,100,100)" stroke-width="0.96"/>
<path d="M437.66,103.59 A39.20,39.20 0 0 1 467.69,78.40 L468.49,82.93 A34.60,34.60 0 0 0 441.99,105.17 Z" fill="rgb(225,225,225)"/>
<path d="M469.72,78.09 A39.20,39.20 0 1 1 437.66,130.41 L441.99,128.83 A34.60,34.60 0 1 0 470.28,82.66 Z" fill="rgb(225,225,225)"/>
<line x1="442.49" y1="103.86" x2="438.24" y2="102.11" stroke="rgb(20,20,20)" stroke-width="0.57"/>
<line x1="443.47" y1="101.70" x2="439.34" y2="99.67" stroke="rgb(20,20,20)" stroke-width="0.87"/>
<line x1="443.69" y1="101.25" x2="439.60" y2="99.15" stroke="rgb(255,255,255)" stroke-width="0.61"/>
<line x1="445.49" y1="98.15" x2="441.63" y2="95.64" stroke="rgb(255,255,255)" stroke-width="0.94"/>
<line x1="445.66" y1="97.88" x2="441.83" y2="95.34" stroke="rgb(20,20,20)" stroke-width="0.63"/>
<line x1="447.67" y1="95.15" x2="444.10" y2="92.25" stroke="rgb(255,255,255)" stroke-width="0.77"/>
<line x1="448.18" y1="94.54" x2="444.69" y2="91.55" stroke="rgb(255,255,255)" stroke-width="0.50"/>
<line x1="450.30" y1="92.27" x2="447.08" y2="88.98" stroke="rgb(20,20,20)" stroke-width="0.69"/>
<line x1="451.61" y1="91.05" x2="448.57" y2="87.61" stroke="rgb(255,255,255)" stroke-width="0.63"/>
<line x1="453.19" y1="89.74" x2="450.36" y2="86.11" stroke="rgb(255,255,255)" stroke-width="0.56"/>
<line x1="453.89" y1="89.21" x2="451.15" y2="85.51" stroke="rgb(0,0,0)" stroke-width="1.13"/>
<line x1="457.08" y1="87.11" x2="454.76" y2="83.13" stroke="rgb(255,255,255)" stroke-width="0.61"/>
<line x1="458.53" y1="86.30" x2="456.41" y2="82.22" stroke="rgb(255,255,255)" stroke-width="1.09"/>
<line x1="459.66" y1="85.74" x2="457.69" y2="81.59" stroke="rgb(255,255,255)" stroke-width="1.01"/>
<line x1="462.22" y1="84.65" x2="460.59" y2="80.35" stroke="rgb(0,0,0)" stroke-width="0.66"/>
<line x1="463.56" y1="84.18" x2="462.10" y2="79.81" stroke="rgb(0,0,0)" stroke-width="0.92"/>
<line x1="464.80" y1="83.79" x2="463.52" y2="79.37" stroke="rgb(50,50,50)" stroke-width="0.64"/>
<line x1="467.54" y1="83.11" x2="466.62" y2="78.60" stroke="rgb(20,20,20)" stroke-width="0.70"/>
<line x1="472.13" y1="82.48" x2="471.81" y2="77.89" stroke="rgb(0,0,0)" stroke-width="1.01"/>
<line x1="472.34" y1="82.47" x2="472.05" y2="77.88" stroke="rgb(255,255,255)" stroke-width="1.13"/>
<line x1="475.05" y1="82.40" x2="475.13" y2="77.81" stroke="rgb(50,50,50)" stroke-width="0.98"/>
<line x1="477.17" y1="82.50" x2="477.53" y2="77.92" stroke="rgb(50,50,50)" stroke-width="1.22"/>
<line x1="480.02" y1="82.84" x2="480.76" y2="78.30" stroke="rgb(255,255,255)" stroke-width="1.11"/>
<line x1="481.66" y1="83.15" x2="482.62" y2="78.65" stroke="rgb(50,50,50)" stroke-width="1.21"/>
<line x1="483.04" y1="83.47" x2="484.18" y2="79.01" stroke="rgb(255,255,255)" stroke-width="1.05"/>
<line x1="485.64" y1="84.24" x2="487.12" y2="79.89" stroke="rgb(0,0,0)" stroke-width="0.95"/>
<line x1="487.65" y1="85.00" x2="489.40" y2="80.74" stroke="rgb(255,255,255)" stroke-width="0.76"/>
<line x1="488.78" y1="85.48" x2="490.67" y2="81.29" stroke="rgb(50,50,50)" stroke-width="1.22"/>
<line x1="490.21" y1="86.17" x2="492.30" y2="82.07" stroke="rgb(0,0,0)" stroke-width="0.74"/>
<line x1="492.46" y1="87.43" x2="494.85" y2="83.50" stroke="rgb(50,50,50)" stroke-width="1.09"/>
<line x1="494.10" y1="88.49" x2="496.71" y2="84.70" stroke="rgb(255,255,255)" stroke-width="1.13"/>
<line x1="496.15" y1="90.01" x2="499.03" y2="86.42" stroke="rgb(0,0,0)" stroke-width="0.70"/>
<line x1="497.61" y1="91.25" x2="500.68" y2="87.83" stroke="rgb(0,0,0)" stroke-width="0.90"/>
<line x1="498.42" y1="92.00" x2="501.60" y2="88.67" stroke="rgb(0,0,0)" stroke-width="0.88"/>
<line x1="499.42" y1="92.99" x2="502.73" y2="89.80" stroke="rgb(0,0,0)" stroke-width="0.94"/>
<line x1="501.46" y1="95.31" x2="505.04" y2="92.42" stroke="rgb(0,0,0)" stroke-width="1.20"/>
<line x1="503.05" y1="97.45" x2="506.84" y2="94.85" stroke="rgb(255,255,255)" stroke-width="1.27"/>
<line x1="503.78" y1="98.56" x2="507.67" y2="96.11" stroke="rgb(255,255,255)" stroke-width="0.94"/>
<line x1="504.69" y1="100.10" x2="508.70" y2="97.85" stroke="rgb(0,0,0)" stroke-width="0.68"/>
<line x1="505.77" y1="102.19" x2="509.93" y2="100.22" stroke="rgb(255,255,255)" stroke-width="0.60"/>
<line x1="506.04" y1="102.77" x2="510.23" y2="100.88" stroke="rgb(255,255,255)" stroke-width="1.13"/>
<line x1="506.84" y1="104.71" x2="511.14" y2="103.07" stroke="rgb(255,255,255)" stroke-width="0.96"/>
<line x1="507.69" y1="107.21" x2="512.10" y2="105.91" stroke="rgb(20,20,20)" stroke-width="0.70"/>
<line x1="508.12" y1="108.84" x2="512.59" y2="107.75" stroke="rgb(20,20,20)" stroke-width="0.64"/>
<line x1="508.59" y1="111.06" x2="513.12" y2="110.27" stroke="rgb(50,50,50)" stroke-width="1.15"/>
<line x1="508.86" y1="112.95" x2="513.43" y2="112.41" stroke="rgb(20,20,20)" stroke-width="1.05"/>
<line x1="509.02" y1="114.60" x2="513.61" y2="114.28" stroke="rgb(20,20,20)" stroke-width="0.52"/>
<line x1="509.09" y1="117.91" x2="513.69" y2="118.03" stroke="rgb(20,20,20)" stroke-width="0.76"/>
<line x1="509.07" y1="118.40" x2="513.67" y2="118.59" stroke="rgb(255,255,255)" stroke-width="1.28"/>
<line x1="508.86" y1="121.04" x2="513.43" y2="121.57" stroke="rgb(0,0,0)" stroke-width="0.66"/>
<line x1="508.43" y1="123.76" x2="512.94" y2="124.66" stroke="rgb(255,255,255)" stroke-width="1.22"/>
<line x1="508.30" y1="124.42" x2="512.79" y2="125.40" stroke="rgb(255,255,255)" stroke-width="1.19"/>
<line x1="507.41" y1="127.69" x2="511.78" y2="129.11" stroke="rgb(0,0,0)" stroke-width="0.64"/>
<line x1="506.75" y1="129.52" x2="511.04" y2="131.19" stroke="rgb(255,255,255)" stroke-width="0.66"/>
<line x1="506.18" y1="130.91" x2="510.39" y2="132.76" stroke="rgb(0,0,0)" stroke-width="1.26"/>
<line x1="505.01" y1="133.31" x2="509.07" y2="135.48" stroke="rgb(255,255,255)" stroke-width="0.58"/>
<line x1="504.28" y1="134.61" x2="508.24" y2="136.95" stroke="rgb(20,20,20)" stroke-width="1.27"/>
<line x1="503.71" y1="135.54" x2="507.60" y2="138.01" stroke="rgb(50,50,50)" stroke-width="1.07"/>
<line x1="502.76" y1="136.96" x2="506.52" y2="139.62" stroke="rgb(255,255,255)" stroke-width="1.27"/>
<line x1="500.75" y1="139.54" x2="504.24" y2="142.54" stroke="rgb(50,50,50)" stroke-width="0.56"/>
<line x1="500.16" y1="140.21" x2="503.58" y2="143.29" stroke="rgb(20,20,20)" stroke-width="0.60"/>
<line x1="498.12" y1="142.29" x2="501.26" y2="145.65" stroke="rgb(20,20,20)" stroke-width="0.64"/>
<line x1="497.31" y1="143.01" x2="500.35" y2="146.47" stroke="rgb(255,255,255)" stroke-width="0.74"/>
<line x1="495.72" y1="144.33" x2="498.54" y2="147.96" stroke="rgb(255,255,255)" stroke-width="1.03"/>
<line x1="493.10" y1="146.17" x2="495.57" y2="150.05" stroke="rgb(255,255,255)" stroke-width="0.91"/>
<line x1="491.23" y1="147.28" x2="493.46" y2="151.31" stroke="rgb(0,0,0)" stroke-width="1.03"/>
<line x1="490.71" y1="147.57" x2="492.86" y2="151.63" stroke="rgb(255,255,255)" stroke-width="1.03"/>
<line x1="488.59" y1="148.60" x2="490.46" y2="152.80" stroke="rgb(0,0,0)" stroke-width="0.85"/>
<line x1="486.63" y1="149.41" x2="488.24" y2="153.71" stroke="rgb(255,255,255)" stroke-width="1.23"/>
<line x1="485.73" y1="149.73" x2="487.22" y2="154.08" stroke="rgb(255,255,255)" stroke-width="0.73"/>
<line x1="483.36" y1="150.45" x2="484.54" y2="154.89" stroke="rgb(255,255,255)" stroke-width="0.95"/>
<line x1="481.59" y1="150.87" x2="482.54" y2="155.37" stroke="rgb(255,255,255)" stroke-width="0.65"/>
<line x1="479.61" y1="151.22" x2="480.28" y2="155.77" stroke="rgb(255,255,255)" stroke-width="0.94"/>
<line x1="477.62" y1="151.46" x2="478.03" y2="156.04" stroke="rgb(0,0,0)" stroke-width="1.29"/>
<line x1="475.93" y1="151.57" x2="476.13" y2="156.17" stroke="rgb(50,50,50)" stroke-width="1.23"/>
<line x1="472.85" y1="151.56" x2="472.63" y2="156.16" stroke="rgb(0,0,0)" stroke-width="1.24"/>
<line x1="471.03" y1="151.43" x2="470.57" y2="156.00" stroke="rgb(0,0,0)" stroke-width="0.55"/>
<line x1="468.52" y1="151.08" x2="467.72" y2="155.61" stroke="rgb(20,20,20)" stroke-width="0.76"/>
<line x1="467.14" y1="150.81" x2="466.16" y2="155.30" stroke="rgb(0,0,0)" stroke-width="0.91"/>
<line x1="465.16" y1="150.32" x2="463.92" y2="154.75" stroke="rgb(255,255,255)" stroke-width="1.01"/>
<line x1="462.37" y1="149.40" x2="460.76" y2="153.71" stroke="rgb(255,255,255)" stroke-width="1.26"/>
<line x1="462.02" y1="149.27" x2="460.36" y2="153.56" stroke="rgb(255,255,255)" stroke-width="1.12"/>
<line x1="460.29" y1="148.55" x2="458.41" y2="152.74" stroke="rgb(50,50,50)" stroke-width="0.69"/>
<line x1="457.93" y1="147.37" x2="455.72" y2="151.41" stroke="rgb(255,255,255)" stroke-width="0.70"/>
<line x1="455.75" y1="146.08" x2="453.25" y2="149.94" stroke="rgb(255,255,255)" stroke-width="0.69"/>
<line x1="454.47" y1="145.21" x2="451.81" y2="148.97" stroke="rgb(0,0,0)" stroke-width="1.18"/>
<line x1="452.71" y1="143.87" x2="449.81" y2="147.45" stroke="rgb(20,20,20)" stroke-width="0.53"/>
<line x1="451.21" y1="142.59" x2="448.11" y2="145.99" stroke="rgb(255,255,255)" stroke-width="0.54"/>
<line x1="449.98" y1="141.42" x2="446.72" y2="144.66" stroke="rgb(0,0,0)" stroke-width="0.76"/>
<line x1="448.41" y1="139.73" x2="444.94" y2="142.75" stroke="rgb(255,255,255)" stroke-width="0.90"/>
<line x1="447.36" y1="138.46" x2="443.75" y2="141.32" stroke="rgb(50,50,50)" stroke-width="1.08"/>
<line x1="445.70" y1="136.17" x2="441.87" y2="138.72" stroke="rgb(0,0,0)" stroke-width="0.56"/>
<line x1="444.59" y1="134.40" x2="440.62" y2="136.71" stroke="rgb(255,255,255)" stroke-width="1.01"/>
<line x1="443.94" y1="133.23" x2="439.88" y2="135.39" stroke="rgb(255,255,255)" stroke-width="0.69"/>
<line x1="443.43" y1="132.23" x2="439.30" y2="134.25" stroke="rgb(20,20,20)" stroke-width="0.84"/>
<line x1="442.20" y1="129.40" x2="437.90" y2="131.05" stroke="rgb(255,255,255)" stroke-width="1.00"/>
<path d="M459.00,90.15 A31.00,31.00 0 0 1 477.74,86.17 L477.26,90.69 A26.45,26.45 0 0 0 461.27,94.09 Z" fill="rgb(225,225,225)"/>
<path d="M482.52,87.06 A31.00,31.00 0 0 1 501.35,101.50 L497.41,103.78 A26.45,26.45 0 0 0 481.35,91.45 Z" fill="rgb(225,225,225)"/>
<path d="M503.24,105.39 A31.00,31.00 0 0 1 502.36,130.59 L498.27,128.59 A26.45,26.45 0 0 0 499.02,107.09 Z" fill="rgb(225,225,225)"/>
<path d="M459.00,143.85 A31.00,31.00 0 0 1 445.76,128.61 L449.98,126.91 A26.45,26.45 0 0 0 461.27,139.91 Z" fill="rgb(225,225,225)"/>
<line x1="462.23" y1="93.57" x2="460.12" y2="89.54" stroke="rgb(20,20,20)" stroke-width="1.11"/>
<line x1="464.06" y1="92.70" x2="462.26" y2="88.52" stroke="rgb(255,255,255)" stroke-width="1.16"/>
<line x1="465.35" y1="92.18" x2="463.78" y2="87.91" stroke="rgb(20,20,20)" stroke-width="0.70"/>
<line x1="467.98" y1="91.37" x2="466.86" y2="86.96" stroke="rgb(255,255,255)" stroke-width="1.16"/>
<line x1="470.61" y1="90.84" x2="469.94" y2="86.34" stroke="rgb(0,0,0)" stroke-width="0.75"/>
<line x1="472.01" y1="90.67" x2="471.58" y2="86.14" stroke="rgb(255,255,255)" stroke-width="0.67"/>
<line x1="475.13" y1="90.56" x2="475.24" y2="86.01" stroke="rgb(0,0,0)" stroke-width="0.60"/>
<line x1="476.76" y1="90.65" x2="477.15" y2="86.11" stroke="rgb(255,255,255)" stroke-width="1.29"/>
<line x1="481.64" y1="91.53" x2="482.86" y2="87.15" stroke="rgb(50,50,50)" stroke-width="0.92"/>
<line x1="485.23" y1="92.82" x2="487.08" y2="88.67" stroke="rgb(0,0,0)" stroke-width="0.69"/>
<line x1="486.92" y1="93.65" x2="489.06" y2="89.63" stroke="rgb(0,0,0)" stroke-width="0.57"/>
<line x1="488.12" y1="94.33" x2="490.47" y2="90.43" stroke="rgb(50,50,50)" stroke-width="0.84"/>
<line x1="489.04" y1="94.90" x2="491.54" y2="91.10" stroke="rgb(0,0,0)" stroke-width="1.04"/>
<line x1="491.76" y1="96.96" x2="494.73" y2="93.51" stroke="rgb(255,255,255)" stroke-width="0.99"/>
<line x1="492.65" y1="97.76" x2="495.77" y2="94.45" stroke="rgb(0,0,0)" stroke-width="0.94"/>
<line x1="494.03" y1="99.16" x2="497.39" y2="96.09" stroke="rgb(50,50,50)" stroke-width="0.57"/>
<line x1="495.35" y1="100.72" x2="498.94" y2="97.92" stroke="rgb(20,20,20)" stroke-width="0.77"/>
<line x1="497.39" y1="103.74" x2="501.32" y2="101.46" stroke="rgb(255,255,255)" stroke-width="0.67"/>
<line x1="499.15" y1="107.42" x2="503.40" y2="105.77" stroke="rgb(255,255,255)" stroke-width="1.02"/>
<line x1="499.81" y1="109.30" x2="504.16" y2="107.98" stroke="rgb(20,20,20)" stroke-width="0.95"/>
<line x1="500.69" y1="113.31" x2="505.20" y2="112.67" stroke="rgb(255,255,255)" stroke-width="1.24"/>
<line x1="500.77" y1="113.89" x2="505.29" y2="113.36" stroke="rgb(255,255,255)" stroke-width="0.81"/>
<line x1="500.94" y1="117.58" x2="505.49" y2="117.67" stroke="rgb(50,50,50)" stroke-width="0.80"/>
<line x1="500.93" y1="118.03" x2="505.48" y2="118.21" stroke="rgb(50,50,50)" stroke-width="0.78"/>
<line x1="500.71" y1="120.54" x2="505.22" y2="121.14" stroke="rgb(255,255,255)" stroke-width="1.14"/>
<line x1="500.17" y1="123.36" x2="504.59" y2="124.45" stroke="rgb(50,50,50)" stroke-width="0.67"/>
<line x1="499.56" y1="125.46" x2="503.87" y2="126.91" stroke="rgb(20,20,20)" stroke-width="0.88"/>
<line x1="498.75" y1="127.57" x2="502.92" y2="129.39" stroke="rgb(255,255,255)" stroke-width="1.04"/>
<line x1="459.67" y1="138.90" x2="457.12" y2="142.67" stroke="rgb(0,0,0)" stroke-width="0.93"/>
<line x1="458.68" y1="138.20" x2="455.96" y2="141.84" stroke="rgb(0,0,0)" stroke-width="1.05"/>
<line x1="457.07" y1="136.89" x2="454.07" y2="140.32" stroke="rgb(20,20,20)" stroke-width="1.00"/>
<line x1="455.25" y1="135.13" x2="451.93" y2="138.25" stroke="rgb(255,255,255)" stroke-width="0.71"/>
<line x1="453.98" y1="133.69" x2="450.45" y2="136.56" stroke="rgb(255,255,255)" stroke-width="1.07"/>
<line x1="452.83" y1="132.16" x2="449.10" y2="134.77" stroke="rgb(20,20,20)" stroke-width="0.55"/>
<line x1="451.16" y1="129.43" x2="447.14" y2="131.57" stroke="rgb(255,255,255)" stroke-width="0.79"/>
<line x1="450.17" y1="127.38" x2="445.99" y2="129.17" stroke="rgb(255,255,255)" stroke-width="1.17"/>
<path d="M463.07,136.79 A22.85,22.85 0 0 1 454.91,128.77 L458.81,126.43 A18.30,18.30 0 0 0 465.35,132.85 Z" fill="rgb(225,225,225)"/>
<line x1="465.21" y1="132.77" x2="462.90" y2="136.69" stroke="rgb(20,20,20)" stroke-width="1.17"/>
<line x1="463.74" y1="131.80" x2="461.07" y2="135.48" stroke="rgb(255,255,255)" stroke-width="1.21"/>
<line x1="462.83" y1="131.09" x2="459.92" y2="134.60" stroke="rgb(255,255,255)" stroke-width="1.20"/>
<line x1="461.51" y1="129.89" x2="458.29" y2="133.10" stroke="rgb(20,20,20)" stroke-width="0.82"/>
<line x1="461.00" y1="129.35" x2="457.64" y2="132.42" stroke="rgb(0,0,0)" stroke-width="0.65"/>
<line x1="459.92" y1="128.05" x2="456.29" y2="130.80" stroke="rgb(0,0,0)" stroke-width="0.53"/>
<line x1="459.30" y1="127.19" x2="455.52" y2="129.73" stroke="rgb(50,50,50)" stroke-width="0.88"/>
<path d="M439.21,71.35 A57.70,57.70 0 0 1 441.49,69.68 L460.40,96.78 A24.65,24.65 0 0 0 459.43,97.50 Z" fill="rgba(230,80,100,0.16)"/>
<path d="M439.53,71.10 A57.70,57.70 0 0 1 441.16,69.91 L460.26,96.88 A24.65,24.65 0 0 0 459.56,97.39 Z" fill="rgba(230,80,100,0.16)"/>
<path d="M525.73,90.45 A57.70,57.70 0 0 1 527.45,94.08 L497.12,107.21 A24.65,24.65 0 0 0 496.38,105.66 Z" fill="rgba(230,80,100,0.16)"/>
<path d="M532.01,121.63 A57.70,57.70 0 0 1 531.49,126.03 L498.85,120.86 A24.65,24.65 0 0 0 499.07,118.98 Z" fill="rgba(230,80,100,0.16)"/>
<path d="M531.99,121.93 A57.70,57.70 0 0 1 531.54,125.73 L498.87,120.73 A24.65,24.65 0 0 0 499.06,119.11 Z" fill="rgba(230,80,100,0.16)"/>
<path d="M484.72,173.79 A57.70,57.70 0 0 1 469.17,174.45 L472.22,141.54 A24.65,24.65 0 0 0 478.87,141.26 Z" fill="rgba(230,80,100,0.16)"/>
<path d="M453.07,170.57 A57.70,57.70 0 0 1 450.30,169.38 L457.72,153.31 A40.00,40.00 0 0 0 459.65,154.14 Z" fill="rgba(230,80,100,0.16)"/>
<path d="M486.41,105.58 A16.50,16.50 0 1 1 464.46,103.91" fill="none" stroke="#000" stroke-width="1.15"/>
<path d="M464.46,103.91 A16.50,16.50 0 0 1 486.41,105.58" fill="none" stroke="#444" stroke-width="0.5"/>
<path d="M452.16,127.42 A24.65,24.65 0 0 1 455.48,101.32" fill="none" stroke="#000" stroke-width="1.05"/>
<path d="M492.41,133.94 A24.65,24.65 0 0 1 467.38,140.60" fill="none" stroke="#000" stroke-width="1.05"/>
<path d="M493.27,101.02 A24.65,24.65 0 0 1 496.52,105.92" fill="none" stroke="#000" stroke-width="0.9"/>
<path d="M471.58,92.52 A24.65,24.65 0 0 1 478.57,92.69" fill="none" stroke="#000" stroke-width="0.7"/>
<path d="M484.53,94.48 A24.65,24.65 0 0 1 490.67,98.40" fill="none" stroke="#000" stroke-width="0.7"/>
<path d="M443.31,127.14 A32.80,32.80 0 0 1 447.63,98.19" fill="none" stroke="#000" stroke-width="0.85"/>
<path d="M434.72,126.92 A41.00,41.00 0 0 1 435.97,102.98" fill="none" stroke="#000" stroke-width="0.8"/>
<line x1="466.20" y1="117.00" x2="458.00" y2="117.00" stroke="#666" stroke-width="0.55"/>
<line x1="458.14" y1="114.85" x2="450.06" y2="113.78" stroke="#666" stroke-width="0.55"/>
<line x1="464.46" y1="103.91" x2="459.49" y2="97.44" stroke="#666" stroke-width="0.55"/>
<line x1="469.48" y1="101.28" x2="467.01" y2="93.52" stroke="#666" stroke-width="0.55"/>
<line x1="477.65" y1="100.80" x2="479.20" y2="92.80" stroke="#666" stroke-width="0.55"/>
<line x1="482.14" y1="102.38" x2="485.92" y2="95.16" stroke="#666" stroke-width="0.55"/>
<line x1="486.41" y1="105.58" x2="492.29" y2="99.94" stroke="#666" stroke-width="0.55"/>
<line x1="490.52" y1="113.04" x2="498.43" y2="111.08" stroke="#666" stroke-width="0.55"/>
<line x1="490.93" y1="118.50" x2="499.05" y2="119.23" stroke="#666" stroke-width="0.55"/>
<line x1="479.98" y1="132.56" x2="482.69" y2="140.25" stroke="#666" stroke-width="0.55"/>
<line x1="450.01" y1="114.17" x2="441.92" y2="113.23" stroke="#666" stroke-width="0.55"/>
<line x1="455.48" y1="101.32" x2="449.19" y2="96.14" stroke="#666" stroke-width="0.55"/>
<line x1="459.32" y1="97.58" x2="454.31" y2="91.15" stroke="#666" stroke-width="0.55"/>
<line x1="478.57" y1="92.69" x2="479.91" y2="84.65" stroke="#666" stroke-width="0.55"/>
<line x1="493.27" y1="101.02" x2="499.48" y2="95.74" stroke="#666" stroke-width="0.55"/>
<line x1="496.52" y1="105.92" x2="503.80" y2="102.26" stroke="#666" stroke-width="0.55"/>
<line x1="499.11" y1="118.46" x2="507.24" y2="118.95" stroke="#666" stroke-width="0.55"/>
<line x1="492.41" y1="133.94" x2="498.33" y2="139.54" stroke="#666" stroke-width="0.55"/>
<line x1="479.37" y1="141.16" x2="480.98" y2="149.15" stroke="#666" stroke-width="0.55"/>
<line x1="467.38" y1="140.60" x2="465.02" y2="148.40" stroke="#666" stroke-width="0.55"/>
<line x1="442.02" y1="112.44" x2="433.90" y2="111.29" stroke="#666" stroke-width="0.55"/>
<line x1="447.63" y1="98.19" x2="440.91" y2="93.48" stroke="#666" stroke-width="0.55"/>
<line x1="484.42" y1="85.74" x2="486.90" y2="77.92" stroke="#666" stroke-width="0.55"/>
<line x1="465.46" y1="148.53" x2="463.20" y2="156.41" stroke="#666" stroke-width="0.55"/>
<line x1="494.10" y1="143.30" x2="499.00" y2="149.87" stroke="#666" stroke-width="0.55"/>
<line x1="434.72" y1="107.08" x2="426.66" y2="105.07" stroke="#666" stroke-width="0.55"/>
<line x1="433.60" y1="114.14" x2="425.32" y2="113.56" stroke="#666" stroke-width="0.55"/>
<line x1="433.94" y1="122.99" x2="425.73" y2="124.20" stroke="#666" stroke-width="0.55"/>
<line x1="465.51" y1="130.84" x2="461.07" y2="137.67" stroke="#666" stroke-width="0.55"/>
<line x1="463.68" y1="129.45" x2="458.33" y2="135.60" stroke="#666" stroke-width="0.55"/>
<line x1="462.05" y1="127.82" x2="455.90" y2="133.17" stroke="#666" stroke-width="0.55"/>
<line x1="460.82" y1="126.23" x2="454.06" y2="130.78" stroke="#666" stroke-width="0.55"/>
<line x1="459.67" y1="136.69" x2="454.76" y2="143.20" stroke="#666" stroke-width="0.55"/>
<line x1="457.38" y1="134.73" x2="451.72" y2="140.59" stroke="#666" stroke-width="0.55"/>
<line x1="455.34" y1="132.51" x2="449.01" y2="137.64" stroke="#666" stroke-width="0.55"/>
<line x1="453.60" y1="130.06" x2="446.68" y2="134.38" stroke="#666" stroke-width="0.55"/>
<line x1="452.16" y1="127.42" x2="444.77" y2="130.86" stroke="#666" stroke-width="0.55"/>
<line x1="471.58" y1="92.52" x2="470.62" y2="84.43" stroke="#666" stroke-width="0.55"/>
<line x1="484.53" y1="94.48" x2="487.84" y2="87.04" stroke="#666" stroke-width="0.55"/>
<line x1="487.93" y1="96.33" x2="492.36" y2="89.49" stroke="#666" stroke-width="0.55"/>
<line x1="490.67" y1="98.40" x2="496.02" y2="92.25" stroke="#666" stroke-width="0.55"/>
<line x1="482.12" y1="93.56" x2="484.64" y2="85.81" stroke="#666" stroke-width="0.55"/>
<line x1="494.94" y1="103.22" x2="501.69" y2="98.66" stroke="#666" stroke-width="0.55"/>
<line x1="463.31" y1="95.04" x2="459.61" y2="87.77" stroke="#666" stroke-width="0.55"/>
<line x1="465.67" y1="93.99" x2="462.75" y2="86.38" stroke="#666" stroke-width="0.55"/>
<line x1="468.12" y1="93.19" x2="466.01" y2="85.32" stroke="#666" stroke-width="0.55"/>
<line x1="474.07" y1="92.35" x2="473.93" y2="84.20" stroke="#666" stroke-width="0.55"/>
<line x1="476.22" y1="92.41" x2="476.79" y2="84.28" stroke="#666" stroke-width="0.55"/>
<line x1="498.07" y1="109.79" x2="505.87" y2="107.41" stroke="#666" stroke-width="0.55"/>
<line x1="498.78" y1="112.72" x2="506.80" y2="111.30" stroke="#666" stroke-width="0.55"/>
<line x1="498.78" y1="121.28" x2="506.80" y2="122.70" stroke="#666" stroke-width="0.55"/>
<line x1="498.20" y1="123.79" x2="506.03" y2="126.04" stroke="#666" stroke-width="0.55"/>
<line x1="497.36" y1="126.23" x2="504.91" y2="129.29" stroke="#666" stroke-width="0.55"/>
<path d="M533.75,117.00 A59.25,59.25 0 1 1 533.75,116.99 L530.65,116.99 A56.15,56.15 0 1 0 530.65,117.00 Z" fill="#c9c900" stroke="#3a3a00" stroke-width="0.5"/>
<path d="M525.30,117.00 A50.80,50.80 0 1 1 525.30,116.99 L522.30,116.99 A47.80,47.80 0 1 0 522.30,117.00 Z" fill="#c9c900" stroke="#3a3a00" stroke-width="0.5"/>
<circle cx="416.79" cy="117.00" r="1.82" fill="#c9c900" stroke="rgba(45,45,0,0.75)" stroke-width="0.45"/>
<circle cx="416.90" cy="114.14" r="1.73" fill="#c9c900" stroke="rgba(45,45,0,0.75)" stroke-width="0.45"/>
<circle cx="416.91" cy="111.39" r="1.86" fill="#c9c900" stroke="rgba(45,45,0,0.75)" stroke-width="0.45"/>
<circle cx="417.60" cy="108.60" r="1.76" fill="#c9c900" stroke="rgba(45,45,0,0.75)" stroke-width="0.45"/>
<circle cx="418.10" cy="105.82" r="1.74" fill="#c9c900" stroke="rgba(45,45,0,0.75)" stroke-width="0.45"/>
<circle cx="418.67" cy="103.15" r="1.80" fill="#c9c900" stroke="rgba(45,45,0,0.75)" stroke-width="0.45"/>
<circle cx="419.33" cy="100.15" r="1.83" fill="#c9c900" stroke="rgba(45,45,0,0.75)" stroke-width="0.45"/>
<circle cx="419.98" cy="97.75" r="1.83" fill="#c9c900" stroke="rgba(45,45,0,0.75)" stroke-width="0.45"/>
<circle cx="420.98" cy="94.98" r="1.67" fill="#c9c900" stroke="rgba(45,45,0,0.75)" stroke-width="0.45"/>
<circle cx="422.47" cy="92.50" r="1.74" fill="#c9c900" stroke="rgba(45,45,0,0.75)" stroke-width="0.45"/>
<circle cx="423.53" cy="89.65" r="1.74" fill="#c9c900" stroke="rgba(45,45,0,0.75)" stroke-width="0.45"/>
<circle cx="425.13" cy="87.50" r="1.84" fill="#c9c900" stroke="rgba(45,45,0,0.75)" stroke-width="0.45"/>
<circle cx="426.29" cy="84.90" r="1.77" fill="#c9c900" stroke="rgba(45,45,0,0.75)" stroke-width="0.45"/>
<circle cx="428.12" cy="82.91" r="1.82" fill="#c9c900" stroke="rgba(45,45,0,0.75)" stroke-width="0.45"/>
<circle cx="429.83" cy="80.27" r="1.70" fill="#c9c900" stroke="rgba(45,45,0,0.75)" stroke-width="0.45"/>
<circle cx="431.70" cy="78.29" r="1.82" fill="#c9c900" stroke="rgba(45,45,0,0.75)" stroke-width="0.45"/>
<circle cx="433.67" cy="76.02" r="1.87" fill="#c9c900" stroke="rgba(45,45,0,0.75)" stroke-width="0.45"/>
<circle cx="435.70" cy="74.06" r="1.72" fill="#c9c900" stroke="rgba(45,45,0,0.75)" stroke-width="0.45"/>
<circle cx="437.72" cy="72.28" r="1.87" fill="#c9c900" stroke="rgba(45,45,0,0.75)" stroke-width="0.45"/>
<circle cx="439.74" cy="70.69" r="1.87" fill="#c9c900" stroke="rgba(45,45,0,0.75)" stroke-width="0.45"/>
<circle cx="441.93" cy="69.16" r="1.74" fill="#c9c900" stroke="rgba(45,45,0,0.75)" stroke-width="0.45"/>
<circle cx="444.17" cy="67.69" r="1.82" fill="#c9c900" stroke="rgba(45,45,0,0.75)" stroke-width="0.45"/>
<circle cx="446.49" cy="66.66" r="1.66" fill="#c9c900" stroke="rgba(45,45,0,0.75)" stroke-width="0.45"/>
<circle cx="448.80" cy="65.16" r="1.73" fill="#c9c900" stroke="rgba(45,45,0,0.75)" stroke-width="0.45"/>
<circle cx="451.71" cy="64.05" r="1.81" fill="#c9c900" stroke="rgba(45,45,0,0.75)" stroke-width="0.45"/>
<circle cx="454.29" cy="63.21" r="1.87" fill="#c9c900" stroke="rgba(45,45,0,0.75)" stroke-width="0.45"/>
<circle cx="457.08" cy="62.21" r="1.71" fill="#c9c900" stroke="rgba(45,45,0,0.75)" stroke-width="0.45"/>
<circle cx="459.40" cy="61.25" r="1.78" fill="#c9c900" stroke="rgba(45,45,0,0.75)" stroke-width="0.45"/>
<circle cx="461.86" cy="60.72" r="1.67" fill="#c9c900" stroke="rgba(45,45,0,0.75)" stroke-width="0.45"/>
<circle cx="464.60" cy="60.21" r="1.88" fill="#c9c900" stroke="rgba(45,45,0,0.75)" stroke-width="0.45"/>
<circle cx="467.62" cy="59.83" r="1.82" fill="#c9c900" stroke="rgba(45,45,0,0.75)" stroke-width="0.45"/>
<circle cx="470.43" cy="59.68" r="1.77" fill="#c9c900" stroke="rgba(45,45,0,0.75)" stroke-width="0.45"/>
<circle cx="473.32" cy="59.43" r="1.72" fill="#c9c900" stroke="rgba(45,45,0,0.75)" stroke-width="0.45"/>
<circle cx="475.95" cy="59.10" r="1.78" fill="#c9c900" stroke="rgba(45,45,0,0.75)" stroke-width="0.45"/>
<circle cx="479.11" cy="59.46" r="1.66" fill="#c9c900" stroke="rgba(45,45,0,0.75)" stroke-width="0.45"/>
<circle cx="482.15" cy="60.02" r="1.84" fill="#c9c900" stroke="rgba(45,45,0,0.75)" stroke-width="0.45"/>
<circle cx="485.21" cy="60.21" r="1.86" fill="#c9c900" stroke="rgba(45,45,0,0.75)" stroke-width="0.45"/>
<circle cx="488.12" cy="61.14" r="1.72" fill="#c9c900" stroke="rgba(45,45,0,0.75)" stroke-width="0.45"/>
<circle cx="490.53" cy="61.72" r="1.84" fill="#c9c900" stroke="rgba(45,45,0,0.75)" stroke-width="0.45"/>
<circle cx="493.14" cy="62.56" r="1.69" fill="#c9c900" stroke="rgba(45,45,0,0.75)" stroke-width="0.45"/>
<circle cx="495.65" cy="63.21" r="1.73" fill="#c9c900" stroke="rgba(45,45,0,0.75)" stroke-width="0.45"/>
<circle cx="498.40" cy="64.53" r="1.72" fill="#c9c900" stroke="rgba(45,45,0,0.75)" stroke-width="0.45"/>
<circle cx="500.88" cy="65.68" r="1.81" fill="#c9c900" stroke="rgba(45,45,0,0.75)" stroke-width="0.45"/>
<circle cx="503.50" cy="67.00" r="1.74" fill="#c9c900" stroke="rgba(45,45,0,0.75)" stroke-width="0.45"/>
<circle cx="506.22" cy="68.57" r="1.83" fill="#c9c900" stroke="rgba(45,45,0,0.75)" stroke-width="0.45"/>
<circle cx="508.84" cy="70.39" r="1.85" fill="#c9c900" stroke="rgba(45,45,0,0.75)" stroke-width="0.45"/>
<circle cx="510.86" cy="72.19" r="1.85" fill="#c9c900" stroke="rgba(45,45,0,0.75)" stroke-width="0.45"/>
<circle cx="513.14" cy="74.07" r="1.67" fill="#c9c900" stroke="rgba(45,45,0,0.75)" stroke-width="0.45"/>
<circle cx="515.06" cy="76.07" r="1.77" fill="#c9c900" stroke="rgba(45,45,0,0.75)" stroke-width="0.45"/>
<circle cx="517.09" cy="77.93" r="1.83" fill="#c9c900" stroke="rgba(45,45,0,0.75)" stroke-width="0.45"/>
<circle cx="518.71" cy="80.03" r="1.80" fill="#c9c900" stroke="rgba(45,45,0,0.75)" stroke-width="0.45"/>
<circle cx="520.75" cy="82.20" r="1.70" fill="#c9c900" stroke="rgba(45,45,0,0.75)" stroke-width="0.45"/>
<circle cx="521.98" cy="84.53" r="1.79" fill="#c9c900" stroke="rgba(45,45,0,0.75)" stroke-width="0.45"/>
<circle cx="523.69" cy="87.20" r="1.81" fill="#c9c900" stroke="rgba(45,45,0,0.75)" stroke-width="0.45"/>
<circle cx="525.19" cy="89.79" r="1.72" fill="#c9c900" stroke="rgba(45,45,0,0.75)" stroke-width="0.45"/>
<circle cx="526.43" cy="92.08" r="1.80" fill="#c9c900" stroke="rgba(45,45,0,0.75)" stroke-width="0.45"/>
<circle cx="527.71" cy="94.72" r="1.88" fill="#c9c900" stroke="rgba(45,45,0,0.75)" stroke-width="0.45"/>
<circle cx="529.00" cy="97.41" r="1.84" fill="#c9c900" stroke="rgba(45,45,0,0.75)" stroke-width="0.45"/>
<circle cx="529.52" cy="100.04" r="1.72" fill="#c9c900" stroke="rgba(45,45,0,0.75)" stroke-width="0.45"/>
<circle cx="530.52" cy="102.82" r="1.75" fill="#c9c900" stroke="rgba(45,45,0,0.75)" stroke-width="0.45"/>
<circle cx="531.25" cy="105.29" r="1.69" fill="#c9c900" stroke="rgba(45,45,0,0.75)" stroke-width="0.45"/>
<circle cx="531.48" cy="108.40" r="1.70" fill="#c9c900" stroke="rgba(45,45,0,0.75)" stroke-width="0.45"/>
<circle cx="531.86" cy="111.23" r="1.84" fill="#c9c900" stroke="rgba(45,45,0,0.75)" stroke-width="0.45"/>
<circle cx="532.32" cy="114.33" r="1.85" fill="#c9c900" stroke="rgba(45,45,0,0.75)" stroke-width="0.45"/>
<circle cx="532.17" cy="116.92" r="1.67" fill="#c9c900" stroke="rgba(45,45,0,0.75)" stroke-width="0.45"/>
<circle cx="531.98" cy="120.01" r="1.81" fill="#c9c900" stroke="rgba(45,45,0,0.75)" stroke-width="0.45"/>
<circle cx="531.71" cy="122.98" r="1.75" fill="#c9c900" stroke="rgba(45,45,0,0.75)" stroke-width="0.45"/>
<circle cx="531.38" cy="125.83" r="1.81" fill="#c9c900" stroke="rgba(45,45,0,0.75)" stroke-width="0.45"/>
<circle cx="531.02" cy="128.48" r="1.86" fill="#c9c900" stroke="rgba(45,45,0,0.75)" stroke-width="0.45"/>
<circle cx="530.55" cy="131.52" r="1.79" fill="#c9c900" stroke="rgba(45,45,0,0.75)" stroke-width="0.45"/>
<circle cx="529.33" cy="134.40" r="1.76" fill="#c9c900" stroke="rgba(45,45,0,0.75)" stroke-width="0.45"/>
<circle cx="528.51" cy="137.40" r="1.72" fill="#c9c900" stroke="rgba(45,45,0,0.75)" stroke-width="0.45"/>
<circle cx="527.40" cy="139.82" r="1.75" fill="#c9c900" stroke="rgba(45,45,0,0.75)" stroke-width="0.45"/>
<circle cx="526.45" cy="142.16" r="1.70" fill="#c9c900" stroke="rgba(45,45,0,0.75)" stroke-width="0.45"/>
<circle cx="524.90" cy="144.58" r="1.69" fill="#c9c900" stroke="rgba(45,45,0,0.75)" stroke-width="0.45"/>
<circle cx="523.39" cy="147.18" r="1.81" fill="#c9c900" stroke="rgba(45,45,0,0.75)" stroke-width="0.45"/>
<circle cx="522.24" cy="149.66" r="1.69" fill="#c9c900" stroke="rgba(45,45,0,0.75)" stroke-width="0.45"/>
<circle cx="520.07" cy="152.02" r="1.75" fill="#c9c900" stroke="rgba(45,45,0,0.75)" stroke-width="0.45"/>
<circle cx="518.57" cy="154.29" r="1.79" fill="#c9c900" stroke="rgba(45,45,0,0.75)" stroke-width="0.45"/>
<circle cx="516.93" cy="156.35" r="1.80" fill="#c9c900" stroke="rgba(45,45,0,0.75)" stroke-width="0.45"/>
<circle cx="514.89" cy="158.06" r="1.70" fill="#c9c900" stroke="rgba(45,45,0,0.75)" stroke-width="0.45"/>
<circle cx="513.06" cy="159.97" r="1.84" fill="#c9c900" stroke="rgba(45,45,0,0.75)" stroke-width="0.45"/>
<circle cx="510.75" cy="162.12" r="1.67" fill="#c9c900" stroke="rgba(45,45,0,0.75)" stroke-width="0.45"/>
<circle cx="508.18" cy="163.96" r="1.78" fill="#c9c900" stroke="rgba(45,45,0,0.75)" stroke-width="0.45"/>
<circle cx="505.94" cy="165.41" r="1.66" fill="#c9c900" stroke="rgba(45,45,0,0.75)" stroke-width="0.45"/>
<circle cx="503.89" cy="166.88" r="1.77" fill="#c9c900" stroke="rgba(45,45,0,0.75)" stroke-width="0.45"/>
<circle cx="501.67" cy="168.06" r="1.74" fill="#c9c900" stroke="rgba(45,45,0,0.75)" stroke-width="0.45"/>
<circle cx="499.32" cy="169.32" r="1.71" fill="#c9c900" stroke="rgba(45,45,0,0.75)" stroke-width="0.45"/>
<circle cx="496.66" cy="170.29" r="1.73" fill="#c9c900" stroke="rgba(45,45,0,0.75)" stroke-width="0.45"/>
<circle cx="493.95" cy="171.47" r="1.84" fill="#c9c900" stroke="rgba(45,45,0,0.75)" stroke-width="0.45"/>
<circle cx="490.96" cy="172.48" r="1.77" fill="#c9c900" stroke="rgba(45,45,0,0.75)" stroke-width="0.45"/>
<circle cx="488.26" cy="173.10" r="1.87" fill="#c9c900" stroke="rgba(45,45,0,0.75)" stroke-width="0.45"/>
<circle cx="485.82" cy="173.49" r="1.69" fill="#c9c900" stroke="rgba(45,45,0,0.75)" stroke-width="0.45"/>
<circle cx="482.87" cy="173.98" r="1.77" fill="#c9c900" stroke="rgba(45,45,0,0.75)" stroke-width="0.45"/>
<circle cx="479.73" cy="174.44" r="1.80" fill="#c9c900" stroke="rgba(45,45,0,0.75)" stroke-width="0.45"/>
<circle cx="477.05" cy="174.72" r="1.67" fill="#c9c900" stroke="rgba(45,45,0,0.75)" stroke-width="0.45"/>
<circle cx="474.15" cy="174.56" r="1.72" fill="#c9c900" stroke="rgba(45,45,0,0.75)" stroke-width="0.45"/>
<circle cx="471.56" cy="174.44" r="1.67" fill="#c9c900" stroke="rgba(45,45,0,0.75)" stroke-width="0.45"/>
<circle cx="468.88" cy="174.35" r="1.70" fill="#c9c900" stroke="rgba(45,45,0,0.75)" stroke-width="0.45"/>
<circle cx="466.34" cy="173.96" r="1.74" fill="#c9c900" stroke="rgba(45,45,0,0.75)" stroke-width="0.45"/>
<circle cx="463.91" cy="173.49" r="1.75" fill="#c9c900" stroke="rgba(45,45,0,0.75)" stroke-width="0.45"/>
<circle cx="461.35" cy="173.36" r="1.88" fill="#c9c900" stroke="rgba(45,45,0,0.75)" stroke-width="0.45"/>
<circle cx="458.52" cy="172.27" r="1.66" fill="#c9c900" stroke="rgba(45,45,0,0.75)" stroke-width="0.45"/>
<circle cx="456.06" cy="171.72" r="1.79" fill="#c9c900" stroke="rgba(45,45,0,0.75)" stroke-width="0.45"/>
<circle cx="453.46" cy="170.96" r="1.77" fill="#c9c900" stroke="rgba(45,45,0,0.75)" stroke-width="0.45"/>
<circle cx="450.85" cy="169.84" r="1.84" fill="#c9c900" stroke="rgba(45,45,0,0.75)" stroke-width="0.45"/>
<circle cx="448.20" cy="168.30" r="1.67" fill="#c9c900" stroke="rgba(45,45,0,0.75)" stroke-width="0.45"/>
<circle cx="445.36" cy="166.96" r="1.86" fill="#c9c900" stroke="rgba(45,45,0,0.75)" stroke-width="0.45"/>
<circle cx="442.94" cy="165.44" r="1.66" fill="#c9c900" stroke="rgba(45,45,0,0.75)" stroke-width="0.45"/>
<circle cx="440.71" cy="163.50" r="1.87" fill="#c9c900" stroke="rgba(45,45,0,0.75)" stroke-width="0.45"/>
<circle cx="438.29" cy="161.88" r="1.74" fill="#c9c900" stroke="rgba(45,45,0,0.75)" stroke-width="0.45"/>
<circle cx="435.84" cy="160.15" r="1.76" fill="#c9c900" stroke="rgba(45,45,0,0.75)" stroke-width="0.45"/>
<circle cx="433.64" cy="157.90" r="1.68" fill="#c9c900" stroke="rgba(45,45,0,0.75)" stroke-width="0.45"/>
<circle cx="431.66" cy="155.63" r="1.76" fill="#c9c900" stroke="rgba(45,45,0,0.75)" stroke-width="0.45"/>
<circle cx="429.70" cy="153.27" r="1.77" fill="#c9c900" stroke="rgba(45,45,0,0.75)" stroke-width="0.45"/>
<circle cx="427.74" cy="151.17" r="1.67" fill="#c9c900" stroke="rgba(45,45,0,0.75)" stroke-width="0.45"/>
<circle cx="426.38" cy="148.64" r="1.76" fill="#c9c900" stroke="rgba(45,45,0,0.75)" stroke-width="0.45"/>
<circle cx="425.04" cy="146.54" r="1.67" fill="#c9c900" stroke="rgba(45,45,0,0.75)" stroke-width="0.45"/>
<circle cx="423.67" cy="144.04" r="1.73" fill="#c9c900" stroke="rgba(45,45,0,0.75)" stroke-width="0.45"/>
<circle cx="422.27" cy="141.49" r="1.70" fill="#c9c900" stroke="rgba(45,45,0,0.75)" stroke-width="0.45"/>
<circle cx="420.89" cy="138.96" r="1.67" fill="#c9c900" stroke="rgba(45,45,0,0.75)" stroke-width="0.45"/>
<circle cx="420.22" cy="135.99" r="1.87" fill="#c9c900" stroke="rgba(45,45,0,0.75)" stroke-width="0.45"/>
<circle cx="419.09" cy="133.62" r="1.87" fill="#c9c900" stroke="rgba(45,45,0,0.75)" stroke-width="0.45"/>
<circle cx="418.74" cy="131.06" r="1.68" fill="#c9c900" stroke="rgba(45,45,0,0.75)" stroke-width="0.45"/>
<circle cx="418.12" cy="128.49" r="1.72" fill="#c9c900" stroke="rgba(45,45,0,0.75)" stroke-width="0.45"/>
<circle cx="417.51" cy="126.07" r="1.74" fill="#c9c900" stroke="rgba(45,45,0,0.75)" stroke-width="0.45"/>
<circle cx="417.40" cy="123.35" r="1.70" fill="#c9c900" stroke="rgba(45,45,0,0.75)" stroke-width="0.45"/>
<circle cx="416.68" cy="120.63" r="1.77" fill="#c9c900" stroke="rgba(45,45,0,0.75)" stroke-width="0.45"/>
<circle cx="416.84" cy="117.98" r="1.68" fill="#c9c900" stroke="rgba(45,45,0,0.75)" stroke-width="0.45"/>
<circle cx="425.41" cy="117.00" r="1.81" fill="#c9c900" stroke="rgba(45,45,0,0.75)" stroke-width="0.45"/>
<circle cx="425.10" cy="114.17" r="1.62" fill="#c9c900" stroke="rgba(45,45,0,0.75)" stroke-width="0.45"/>
<circle cx="425.34" cy="110.99" r="1.62" fill="#c9c900" stroke="rgba(45,45,0,0.75)" stroke-width="0.45"/>
<circle cx="426.11" cy="108.02" r="1.65" fill="#c9c900" stroke="rgba(45,45,0,0.75)" stroke-width="0.45"/>
<circle cx="426.83" cy="104.97" r="1.83" fill="#c9c900" stroke="rgba(45,45,0,0.75)" stroke-width="0.45"/>
<circle cx="427.37" cy="102.35" r="1.70" fill="#c9c900" stroke="rgba(45,45,0,0.75)" stroke-width="0.45"/>
<circle cx="428.24" cy="100.01" r="1.77" fill="#c9c900" stroke="rgba(45,45,0,0.75)" stroke-width="0.45"/>
<circle cx="429.20" cy="97.36" r="1.63" fill="#c9c900" stroke="rgba(45,45,0,0.75)" stroke-width="0.45"/>
<circle cx="430.27" cy="94.71" r="1.68" fill="#c9c900" stroke="rgba(45,45,0,0.75)" stroke-width="0.45"/>
<circle cx="431.78" cy="91.90" r="1.74" fill="#c9c900" stroke="rgba(45,45,0,0.75)" stroke-width="0.45"/>
<circle cx="433.36" cy="89.65" r="1.80" fill="#c9c900" stroke="rgba(45,45,0,0.75)" stroke-width="0.45"/>
<circle cx="435.17" cy="87.15" r="1.83" fill="#c9c900" stroke="rgba(45,45,0,0.75)" stroke-width="0.45"/>
<circle cx="436.76" cy="85.07" r="1.66" fill="#c9c900" stroke="rgba(45,45,0,0.75)" stroke-width="0.45"/>
<circle cx="438.76" cy="83.38" r="1.74" fill="#c9c900" stroke="rgba(45,45,0,0.75)" stroke-width="0.45"/>
<circle cx="440.52" cy="81.39" r="1.67" fill="#c9c900" stroke="rgba(45,45,0,0.75)" stroke-width="0.45"/>
<circle cx="442.79" cy="79.57" r="1.68" fill="#c9c900" stroke="rgba(45,45,0,0.75)" stroke-width="0.45"/>
<circle cx="444.53" cy="77.72" r="1.66" fill="#c9c900" stroke="rgba(45,45,0,0.75)" stroke-width="0.45"/>
<circle cx="447.20" cy="76.13" r="1.79" fill="#c9c900" stroke="rgba(45,45,0,0.75)" stroke-width="0.45"/>
<circle cx="449.27" cy="74.72" r="1.67" fill="#c9c900" stroke="rgba(45,45,0,0.75)" stroke-width="0.45"/>
<circle cx="451.87" cy="73.41" r="1.67" fill="#c9c900" stroke="rgba(45,45,0,0.75)" stroke-width="0.45"/>
<circle cx="454.08" cy="72.12" r="1.63" fill="#c9c900" stroke="rgba(45,45,0,0.75)" stroke-width="0.45"/>
<circle cx="456.70" cy="71.23" r="1.72" fill="#c9c900" stroke="rgba(45,45,0,0.75)" stroke-width="0.45"/>
<circle cx="458.96" cy="69.97" r="1.81" fill="#c9c900" stroke="rgba(45,45,0,0.75)" stroke-width="0.45"/>
<circle cx="461.48" cy="69.59" r="1.76" fill="#c9c900" stroke="rgba(45,45,0,0.75)" stroke-width="0.45"/>
<circle cx="464.19" cy="68.83" r="1.66" fill="#c9c900" stroke="rgba(45,45,0,0.75)" stroke-width="0.45"/>
<circle cx="466.77" cy="68.38" r="1.76" fill="#c9c900" stroke="rgba(45,45,0,0.75)" stroke-width="0.45"/>
<circle cx="469.43" cy="67.88" r="1.74" fill="#c9c900" stroke="rgba(45,45,0,0.75)" stroke-width="0.45"/>
<circle cx="472.10" cy="68.00" r="1.76" fill="#c9c900" stroke="rgba(45,45,0,0.75)" stroke-width="0.45"/>
<circle cx="475.00" cy="67.77" r="1.61" fill="#c9c900" stroke="rgba(45,45,0,0.75)" stroke-width="0.45"/>
<circle cx="477.89" cy="67.87" r="1.81" fill="#c9c900" stroke="rgba(45,45,0,0.75)" stroke-width="0.45"/>
<circle cx="480.57" cy="67.88" r="1.63" fill="#c9c900" stroke="rgba(45,45,0,0.75)" stroke-width="0.45"/>
<circle cx="483.55" cy="68.46" r="1.63" fill="#c9c900" stroke="rgba(45,45,0,0.75)" stroke-width="0.45"/>
<circle cx="486.30" cy="68.98" r="1.66" fill="#c9c900" stroke="rgba(45,45,0,0.75)" stroke-width="0.45"/>
<circle cx="488.66" cy="69.73" r="1.62" fill="#c9c900" stroke="rgba(45,45,0,0.75)" stroke-width="0.45"/>
<circle cx="491.52" cy="70.56" r="1.84" fill="#c9c900" stroke="rgba(45,45,0,0.75)" stroke-width="0.45"/>
<circle cx="494.27" cy="72.03" r="1.76" fill="#c9c900" stroke="rgba(45,45,0,0.75)" stroke-width="0.45"/>
<circle cx="496.62" cy="72.94" r="1.65" fill="#c9c900" stroke="rgba(45,45,0,0.75)" stroke-width="0.45"/>
<circle cx="498.99" cy="74.46" r="1.76" fill="#c9c900" stroke="rgba(45,45,0,0.75)" stroke-width="0.45"/>
<circle cx="501.42" cy="75.52" r="1.61" fill="#c9c900" stroke="rgba(45,45,0,0.75)" stroke-width="0.45"/>
<circle cx="503.64" cy="77.21" r="1.66" fill="#c9c900" stroke="rgba(45,45,0,0.75)" stroke-width="0.45"/>
<circle cx="505.80" cy="78.58" r="1.62" fill="#c9c900" stroke="rgba(45,45,0,0.75)" stroke-width="0.45"/>
<circle cx="508.01" cy="80.54" r="1.79" fill="#c9c900" stroke="rgba(45,45,0,0.75)" stroke-width="0.45"/>
<circle cx="509.89" cy="82.68" r="1.74" fill="#c9c900" stroke="rgba(45,45,0,0.75)" stroke-width="0.45"/>
<circle cx="511.81" cy="85.08" r="1.73" fill="#c9c900" stroke="rgba(45,45,0,0.75)" stroke-width="0.45"/>
<circle cx="514.05" cy="87.18" r="1.61" fill="#c9c900" stroke="rgba(45,45,0,0.75)" stroke-width="0.45"/>
<circle cx="515.75" cy="89.63" r="1.79" fill="#c9c900" stroke="rgba(45,45,0,0.75)" stroke-width="0.45"/>
<circle cx="517.12" cy="92.25" r="1.83" fill="#c9c900" stroke="rgba(45,45,0,0.75)" stroke-width="0.45"/>
<circle cx="518.45" cy="95.06" r="1.71" fill="#c9c900" stroke="rgba(45,45,0,0.75)" stroke-width="0.45"/>
<circle cx="519.91" cy="97.39" r="1.69" fill="#c9c900" stroke="rgba(45,45,0,0.75)" stroke-width="0.45"/>
<circle cx="520.86" cy="100.36" r="1.63" fill="#c9c900" stroke="rgba(45,45,0,0.75)" stroke-width="0.45"/>
<circle cx="521.92" cy="103.04" r="1.83" fill="#c9c900" stroke="rgba(45,45,0,0.75)" stroke-width="0.45"/>
<circle cx="522.48" cy="105.51" r="1.84" fill="#c9c900" stroke="rgba(45,45,0,0.75)" stroke-width="0.45"/>
<circle cx="523.05" cy="107.97" r="1.66" fill="#c9c900" stroke="rgba(45,45,0,0.75)" stroke-width="0.45"/>
<circle cx="523.33" cy="110.79" r="1.68" fill="#c9c900" stroke="rgba(45,45,0,0.75)" stroke-width="0.45"/>
<circle cx="523.65" cy="113.41" r="1.74" fill="#c9c900" stroke="rgba(45,45,0,0.75)" stroke-width="0.45"/>
<circle cx="523.63" cy="116.59" r="1.74" fill="#c9c900" stroke="rgba(45,45,0,0.75)" stroke-width="0.45"/>
<circle cx="523.95" cy="119.14" r="1.64" fill="#c9c900" stroke="rgba(45,45,0,0.75)" stroke-width="0.45"/>
<circle cx="523.35" cy="122.15" r="1.72" fill="#c9c900" stroke="rgba(45,45,0,0.75)" stroke-width="0.45"/>
<circle cx="523.20" cy="125.03" r="1.65" fill="#c9c900" stroke="rgba(45,45,0,0.75)" stroke-width="0.45"/>
<circle cx="522.34" cy="128.08" r="1.77" fill="#c9c900" stroke="rgba(45,45,0,0.75)" stroke-width="0.45"/>
<circle cx="521.89" cy="131.13" r="1.66" fill="#c9c900" stroke="rgba(45,45,0,0.75)" stroke-width="0.45"/>
<circle cx="520.90" cy="133.48" r="1.78" fill="#c9c900" stroke="rgba(45,45,0,0.75)" stroke-width="0.45"/>
<circle cx="519.95" cy="135.98" r="1.75" fill="#c9c900" stroke="rgba(45,45,0,0.75)" stroke-width="0.45"/>
<circle cx="518.85" cy="138.58" r="1.82" fill="#c9c900" stroke="rgba(45,45,0,0.75)" stroke-width="0.45"/>
<circle cx="517.38" cy="141.22" r="1.79" fill="#c9c900" stroke="rgba(45,45,0,0.75)" stroke-width="0.45"/>
<circle cx="516.06" cy="143.55" r="1.66" fill="#c9c900" stroke="rgba(45,45,0,0.75)" stroke-width="0.45"/>
<circle cx="514.55" cy="146.09" r="1.71" fill="#c9c900" stroke="rgba(45,45,0,0.75)" stroke-width="0.45"/>
<circle cx="512.82" cy="148.06" r="1.84" fill="#c9c900" stroke="rgba(45,45,0,0.75)" stroke-width="0.45"/>
<circle cx="511.29" cy="150.14" r="1.83" fill="#c9c900" stroke="rgba(45,45,0,0.75)" stroke-width="0.45"/>
<circle cx="509.31" cy="151.75" r="1.75" fill="#c9c900" stroke="rgba(45,45,0,0.75)" stroke-width="0.45"/>
<circle cx="507.14" cy="153.67" r="1.66" fill="#c9c900" stroke="rgba(45,45,0,0.75)" stroke-width="0.45"/>
<circle cx="504.99" cy="155.83" r="1.70" fill="#c9c900" stroke="rgba(45,45,0,0.75)" stroke-width="0.45"/>
<circle cx="502.72" cy="157.31" r="1.64" fill="#c9c900" stroke="rgba(45,45,0,0.75)" stroke-width="0.45"/>
<circle cx="500.36" cy="158.90" r="1.65" fill="#c9c900" stroke="rgba(45,45,0,0.75)" stroke-width="0.45"/>
<circle cx="498.10" cy="160.38" r="1.80" fill="#c9c900" stroke="rgba(45,45,0,0.75)" stroke-width="0.45"/>
<circle cx="495.37" cy="161.59" r="1.62" fill="#c9c900" stroke="rgba(45,45,0,0.75)" stroke-width="0.45"/>
<circle cx="492.51" cy="162.91" r="1.73" fill="#c9c900" stroke="rgba(45,45,0,0.75)" stroke-width="0.45"/>
<circle cx="489.69" cy="163.95" r="1.69" fill="#c9c900" stroke="rgba(45,45,0,0.75)" stroke-width="0.45"/>
<circle cx="487.22" cy="164.56" r="1.77" fill="#c9c900" stroke="rgba(45,45,0,0.75)" stroke-width="0.45"/>
<circle cx="484.69" cy="165.33" r="1.83" fill="#c9c900" stroke="rgba(45,45,0,0.75)" stroke-width="0.45"/>
<circle cx="481.67" cy="165.91" r="1.66" fill="#c9c900" stroke="rgba(45,45,0,0.75)" stroke-width="0.45"/>
<circle cx="479.14" cy="165.89" r="1.65" fill="#c9c900" stroke="rgba(45,45,0,0.75)" stroke-width="0.45"/>
<circle cx="476.16" cy="166.45" r="1.69" fill="#c9c900" stroke="rgba(45,45,0,0.75)" stroke-width="0.45"/>
<circle cx="473.53" cy="166.44" r="1.74" fill="#c9c900" stroke="rgba(45,45,0,0.75)" stroke-width="0.45"/>
<circle cx="470.39" cy="166.07" r="1.76" fill="#c9c900" stroke="rgba(45,45,0,0.75)" stroke-width="0.45"/>
<circle cx="467.90" cy="165.65" r="1.74" fill="#c9c900" stroke="rgba(45,45,0,0.75)" stroke-width="0.45"/>
<circle cx="465.18" cy="165.28" r="1.66" fill="#c9c900" stroke="rgba(45,45,0,0.75)" stroke-width="0.45"/>
<circle cx="462.77" cy="164.71" r="1.64" fill="#c9c900" stroke="rgba(45,45,0,0.75)" stroke-width="0.45"/>
<circle cx="460.08" cy="164.40" r="1.67" fill="#c9c900" stroke="rgba(45,45,0,0.75)" stroke-width="0.45"/>
<circle cx="457.55" cy="163.07" r="1.70" fill="#c9c900" stroke="rgba(45,45,0,0.75)" stroke-width="0.45"/>
<circle cx="455.05" cy="162.42" r="1.69" fill="#c9c900" stroke="rgba(45,45,0,0.75)" stroke-width="0.45"/>
<circle cx="452.52" cy="160.97" r="1.77" fill="#c9c900" stroke="rgba(45,45,0,0.75)" stroke-width="0.45"/>
<circle cx="449.94" cy="159.73" r="1.80" fill="#c9c900" stroke="rgba(45,45,0,0.75)" stroke-width="0.45"/>
<circle cx="447.51" cy="158.50" r="1.75" fill="#c9c900" stroke="rgba(45,45,0,0.75)" stroke-width="0.45"/>
<circle cx="445.23" cy="156.41" r="1.65" fill="#c9c900" stroke="rgba(45,45,0,0.75)" stroke-width="0.45"/>
<circle cx="442.70" cy="154.84" r="1.64" fill="#c9c900" stroke="rgba(45,45,0,0.75)" stroke-width="0.45"/>
<circle cx="440.60" cy="152.76" r="1.79" fill="#c9c900" stroke="rgba(45,45,0,0.75)" stroke-width="0.45"/>
<circle cx="438.27" cy="150.68" r="1.78" fill="#c9c900" stroke="rgba(45,45,0,0.75)" stroke-width="0.45"/>
<circle cx="436.19" cy="148.29" r="1.69" fill="#c9c900" stroke="rgba(45,45,0,0.75)" stroke-width="0.45"/>
<circle cx="434.54" cy="145.79" r="1.77" fill="#c9c900" stroke="rgba(45,45,0,0.75)" stroke-width="0.45"/>
<circle cx="433.00" cy="143.26" r="1.76" fill="#c9c900" stroke="rgba(45,45,0,0.75)" stroke-width="0.45"/>
<circle cx="431.35" cy="140.65" r="1.63" fill="#c9c900" stroke="rgba(45,45,0,0.75)" stroke-width="0.45"/>
<circle cx="430.25" cy="138.34" r="1.83" fill="#c9c900" stroke="rgba(45,45,0,0.75)" stroke-width="0.45"/>
<circle cx="428.82" cy="136.06" r="1.70" fill="#c9c900" stroke="rgba(45,45,0,0.75)" stroke-width="0.45"/>
<circle cx="427.79" cy="133.08" r="1.66" fill="#c9c900" stroke="rgba(45,45,0,0.75)" stroke-width="0.45"/>
<circle cx="426.90" cy="130.40" r="1.71" fill="#c9c900" stroke="rgba(45,45,0,0.75)" stroke-width="0.45"/>
<circle cx="426.33" cy="127.61" r="1.72" fill="#c9c900" stroke="rgba(45,45,0,0.75)" stroke-width="0.45"/>
<circle cx="425.87" cy="124.56" r="1.79" fill="#c9c900" stroke="rgba(45,45,0,0.75)" stroke-width="0.45"/>
<circle cx="425.39" cy="122.13" r="1.80" fill="#c9c900" stroke="rgba(45,45,0,0.75)" stroke-width="0.45"/>
<circle cx="425.17" cy="119.39" r="1.79" fill="#c9c900" stroke="rgba(45,45,0,0.75)" stroke-width="0.45"/>
<circle cx="436.99" cy="100.47" r="1.86" fill="#c9c900" stroke="#2a2a00" stroke-width="0.55"/>
<circle cx="438.29" cy="97.86" r="1.93" fill="#c9c900" stroke="#2a2a00" stroke-width="0.55"/>
<circle cx="439.36" cy="95.59" r="2.08" fill="#c9c900" stroke="#2a2a00" stroke-width="0.55"/>
<circle cx="441.06" cy="93.53" r="1.90" fill="#c9c900" stroke="#2a2a00" stroke-width="0.55"/>
<circle cx="442.95" cy="91.07" r="1.86" fill="#c9c900" stroke="#2a2a00" stroke-width="0.55"/>
<circle cx="444.70" cy="88.93" r="1.98" fill="#c9c900" stroke="#2a2a00" stroke-width="0.55"/>
<circle cx="446.42" cy="87.04" r="1.89" fill="#c9c900" stroke="#2a2a00" stroke-width="0.55"/>
<circle cx="448.80" cy="85.28" r="1.97" fill="#c9c900" stroke="#2a2a00" stroke-width="0.55"/>
<circle cx="451.34" cy="83.38" r="1.93" fill="#c9c900" stroke="#2a2a00" stroke-width="0.55"/>
<circle cx="453.63" cy="81.74" r="1.97" fill="#c9c900" stroke="#2a2a00" stroke-width="0.55"/>
<circle cx="456.44" cy="80.30" r="1.93" fill="#c9c900" stroke="#2a2a00" stroke-width="0.55"/>
<circle cx="458.72" cy="78.90" r="1.88" fill="#c9c900" stroke="#2a2a00" stroke-width="0.55"/>
<circle cx="461.73" cy="78.12" r="2.03" fill="#c9c900" stroke="#2a2a00" stroke-width="0.55"/>
<circle cx="464.23" cy="77.48" r="1.89" fill="#c9c900" stroke="#2a2a00" stroke-width="0.55"/>
<circle cx="467.31" cy="76.72" r="1.94" fill="#c9c900" stroke="#2a2a00" stroke-width="0.55"/>
<circle cx="469.80" cy="76.12" r="2.04" fill="#c9c900" stroke="#2a2a00" stroke-width="0.55"/>
<circle cx="472.70" cy="75.80" r="2.06" fill="#c9c900" stroke="#2a2a00" stroke-width="0.55"/>
<circle cx="475.25" cy="76.17" r="1.93" fill="#c9c900" stroke="#2a2a00" stroke-width="0.55"/>
<circle cx="478.35" cy="76.29" r="2.01" fill="#c9c900" stroke="#2a2a00" stroke-width="0.55"/>
<circle cx="481.17" cy="76.76" r="1.91" fill="#c9c900" stroke="#2a2a00" stroke-width="0.55"/>
<circle cx="483.69" cy="76.82" r="2.05" fill="#c9c900" stroke="#2a2a00" stroke-width="0.55"/>
<circle cx="486.18" cy="77.53" r="1.94" fill="#c9c900" stroke="#2a2a00" stroke-width="0.55"/>
<circle cx="488.77" cy="78.78" r="1.87" fill="#c9c900" stroke="#2a2a00" stroke-width="0.55"/>
<circle cx="491.71" cy="79.65" r="1.88" fill="#c9c900" stroke="#2a2a00" stroke-width="0.55"/>
<circle cx="494.34" cy="81.04" r="1.99" fill="#c9c900" stroke="#2a2a00" stroke-width="0.55"/>
<circle cx="496.69" cy="82.36" r="1.95" fill="#c9c900" stroke="#2a2a00" stroke-width="0.55"/>
<circle cx="499.03" cy="84.16" r="1.98" fill="#c9c900" stroke="#2a2a00" stroke-width="0.55"/>
<circle cx="501.25" cy="86.11" r="1.93" fill="#c9c900" stroke="#2a2a00" stroke-width="0.55"/>
<circle cx="503.56" cy="87.92" r="1.91" fill="#c9c900" stroke="#2a2a00" stroke-width="0.55"/>
<circle cx="505.62" cy="90.26" r="1.86" fill="#c9c900" stroke="#2a2a00" stroke-width="0.55"/>
<circle cx="507.49" cy="92.46" r="2.08" fill="#c9c900" stroke="#2a2a00" stroke-width="0.55"/>
<circle cx="509.11" cy="94.62" r="1.84" fill="#c9c900" stroke="#2a2a00" stroke-width="0.55"/>
<circle cx="510.48" cy="97.48" r="1.89" fill="#c9c900" stroke="#2a2a00" stroke-width="0.55"/>
<circle cx="511.96" cy="99.79" r="1.88" fill="#c9c900" stroke="#2a2a00" stroke-width="0.55"/>
<circle cx="512.85" cy="102.62" r="1.88" fill="#c9c900" stroke="#2a2a00" stroke-width="0.55"/>
<circle cx="513.94" cy="104.97" r="2.07" fill="#c9c900" stroke="#2a2a00" stroke-width="0.55"/>
<circle cx="514.54" cy="108.10" r="2.08" fill="#c9c900" stroke="#2a2a00" stroke-width="0.55"/>
<circle cx="514.83" cy="110.87" r="2.02" fill="#c9c900" stroke="#2a2a00" stroke-width="0.55"/>
<circle cx="515.59" cy="113.77" r="2.00" fill="#c9c900" stroke="#2a2a00" stroke-width="0.55"/>
<circle cx="515.32" cy="116.89" r="1.87" fill="#c9c900" stroke="#2a2a00" stroke-width="0.55"/>
<circle cx="515.19" cy="119.47" r="2.02" fill="#c9c900" stroke="#2a2a00" stroke-width="0.55"/>
<circle cx="514.91" cy="122.59" r="2.07" fill="#c9c900" stroke="#2a2a00" stroke-width="0.55"/>
<circle cx="514.43" cy="125.66" r="1.91" fill="#c9c900" stroke="#2a2a00" stroke-width="0.55"/>
<circle cx="513.94" cy="128.28" r="1.88" fill="#c9c900" stroke="#2a2a00" stroke-width="0.55"/>
<circle cx="512.92" cy="131.20" r="1.88" fill="#c9c900" stroke="#2a2a00" stroke-width="0.55"/>
<circle cx="511.93" cy="134.08" r="2.00" fill="#c9c900" stroke="#2a2a00" stroke-width="0.55"/>
<circle cx="510.54" cy="136.97" r="1.99" fill="#c9c900" stroke="#2a2a00" stroke-width="0.55"/>
<circle cx="509.10" cy="139.25" r="1.88" fill="#c9c900" stroke="#2a2a00" stroke-width="0.55"/>
<circle cx="507.36" cy="141.19" r="2.08" fill="#c9c900" stroke="#2a2a00" stroke-width="0.55"/>
<circle cx="506.05" cy="143.57" r="1.92" fill="#c9c900" stroke="#2a2a00" stroke-width="0.55"/>
<circle cx="503.90" cy="145.35" r="1.88" fill="#c9c900" stroke="#2a2a00" stroke-width="0.55"/>
<circle cx="502.01" cy="147.58" r="2.06" fill="#c9c900" stroke="#2a2a00" stroke-width="0.55"/>
<circle cx="499.62" cy="149.32" r="1.86" fill="#c9c900" stroke="#2a2a00" stroke-width="0.55"/>
<circle cx="497.06" cy="151.17" r="1.90" fill="#c9c900" stroke="#2a2a00" stroke-width="0.55"/>
<circle cx="494.78" cy="152.47" r="1.93" fill="#c9c900" stroke="#2a2a00" stroke-width="0.55"/>
<circle cx="492.36" cy="153.76" r="2.07" fill="#c9c900" stroke="#2a2a00" stroke-width="0.55"/>
<circle cx="490.18" cy="155.00" r="1.94" fill="#c9c900" stroke="#2a2a00" stroke-width="0.55"/>
<circle cx="487.50" cy="155.96" r="1.93" fill="#c9c900" stroke="#2a2a00" stroke-width="0.55"/>
<circle cx="484.42" cy="156.63" r="1.95" fill="#c9c900" stroke="#2a2a00" stroke-width="0.55"/>
<circle cx="481.88" cy="157.19" r="1.96" fill="#c9c900" stroke="#2a2a00" stroke-width="0.55"/>
<circle cx="478.81" cy="157.86" r="1.89" fill="#c9c900" stroke="#2a2a00" stroke-width="0.55"/>
<circle cx="475.91" cy="158.01" r="1.99" fill="#c9c900" stroke="#2a2a00" stroke-width="0.55"/>
<circle cx="473.03" cy="157.88" r="1.85" fill="#c9c900" stroke="#2a2a00" stroke-width="0.55"/>
<circle cx="470.51" cy="157.93" r="1.97" fill="#c9c900" stroke="#2a2a00" stroke-width="0.55"/>
<circle cx="467.95" cy="157.35" r="1.85" fill="#c9c900" stroke="#2a2a00" stroke-width="0.55"/>
<circle cx="465.44" cy="156.99" r="2.02" fill="#c9c900" stroke="#2a2a00" stroke-width="0.55"/>
<circle cx="462.74" cy="156.31" r="1.85" fill="#c9c900" stroke="#2a2a00" stroke-width="0.55"/>
<circle cx="460.39" cy="155.27" r="2.01" fill="#c9c900" stroke="#2a2a00" stroke-width="0.55"/>
<circle cx="457.88" cy="154.75" r="2.06" fill="#c9c900" stroke="#2a2a00" stroke-width="0.55"/>
<circle cx="455.55" cy="153.21" r="2.01" fill="#c9c900" stroke="#2a2a00" stroke-width="0.55"/>
<circle cx="452.62" cy="151.91" r="1.89" fill="#c9c900" stroke="#2a2a00" stroke-width="0.55"/>
<circle cx="450.47" cy="149.96" r="2.09" fill="#c9c900" stroke="#2a2a00" stroke-width="0.55"/>
<circle cx="448.00" cy="147.99" r="2.08" fill="#c9c900" stroke="#2a2a00" stroke-width="0.55"/>
<circle cx="446.04" cy="146.46" r="2.09" fill="#c9c900" stroke="#2a2a00" stroke-width="0.55"/>
<circle cx="444.34" cy="144.53" r="1.86" fill="#c9c900" stroke="#2a2a00" stroke-width="0.55"/>
<circle cx="442.46" cy="142.44" r="1.90" fill="#c9c900" stroke="#2a2a00" stroke-width="0.55"/>
<circle cx="440.73" cy="140.52" r="1.88" fill="#c9c900" stroke="#2a2a00" stroke-width="0.55"/>
<circle cx="439.50" cy="138.11" r="1.85" fill="#c9c900" stroke="#2a2a00" stroke-width="0.55"/>
<circle cx="437.79" cy="135.65" r="1.90" fill="#c9c900" stroke="#2a2a00" stroke-width="0.55"/>
<circle cx="436.71" cy="132.73" r="2.01" fill="#c9c900" stroke="#2a2a00" stroke-width="0.55"/>
<circle cx="443.68" cy="105.75" r="1.96" fill="#c9c900" stroke="#2a2a00" stroke-width="0.55"/>
<circle cx="444.78" cy="102.78" r="2.00" fill="#c9c900" stroke="#2a2a00" stroke-width="0.55"/>
<circle cx="446.13" cy="100.38" r="1.91" fill="#c9c900" stroke="#2a2a00" stroke-width="0.55"/>
<circle cx="447.39" cy="98.12" r="2.13" fill="#c9c900" stroke="#2a2a00" stroke-width="0.55"/>
<circle cx="449.69" cy="95.79" r="2.07" fill="#c9c900" stroke="#2a2a00" stroke-width="0.55"/>
<circle cx="451.95" cy="93.45" r="2.06" fill="#c9c900" stroke="#2a2a00" stroke-width="0.55"/>
<circle cx="453.98" cy="91.35" r="2.12" fill="#c9c900" stroke="#2a2a00" stroke-width="0.55"/>
<circle cx="456.28" cy="89.73" r="2.15" fill="#c9c900" stroke="#2a2a00" stroke-width="0.55"/>
<circle cx="458.48" cy="88.40" r="1.93" fill="#c9c900" stroke="#2a2a00" stroke-width="0.55"/>
<circle cx="461.19" cy="86.98" r="2.00" fill="#c9c900" stroke="#2a2a00" stroke-width="0.55"/>
<circle cx="464.03" cy="86.15" r="1.96" fill="#c9c900" stroke="#2a2a00" stroke-width="0.55"/>
<circle cx="466.64" cy="84.92" r="2.11" fill="#c9c900" stroke="#2a2a00" stroke-width="0.55"/>
<circle cx="472.06" cy="84.23" r="2.14" fill="#c9c900" stroke="#2a2a00" stroke-width="0.55"/>
<circle cx="474.66" cy="84.28" r="1.89" fill="#c9c900" stroke="#2a2a00" stroke-width="0.55"/>
<circle cx="477.32" cy="84.40" r="2.15" fill="#c9c900" stroke="#2a2a00" stroke-width="0.55"/>
<circle cx="480.50" cy="84.66" r="2.04" fill="#c9c900" stroke="#2a2a00" stroke-width="0.55"/>
<circle cx="483.11" cy="85.52" r="2.08" fill="#c9c900" stroke="#2a2a00" stroke-width="0.55"/>
<circle cx="485.70" cy="86.11" r="2.04" fill="#c9c900" stroke="#2a2a00" stroke-width="0.55"/>
<circle cx="488.29" cy="87.37" r="2.04" fill="#c9c900" stroke="#2a2a00" stroke-width="0.55"/>
<circle cx="491.27" cy="88.71" r="2.02" fill="#c9c900" stroke="#2a2a00" stroke-width="0.55"/>
<circle cx="493.79" cy="90.37" r="2.12" fill="#c9c900" stroke="#2a2a00" stroke-width="0.55"/>
<circle cx="496.15" cy="92.08" r="2.04" fill="#c9c900" stroke="#2a2a00" stroke-width="0.55"/>
<circle cx="498.20" cy="94.46" r="2.13" fill="#c9c900" stroke="#2a2a00" stroke-width="0.55"/>
<circle cx="500.29" cy="96.58" r="1.99" fill="#c9c900" stroke="#2a2a00" stroke-width="0.55"/>
<circle cx="501.92" cy="98.87" r="2.06" fill="#c9c900" stroke="#2a2a00" stroke-width="0.55"/>
<circle cx="503.01" cy="101.18" r="2.01" fill="#c9c900" stroke="#2a2a00" stroke-width="0.55"/>
<circle cx="504.63" cy="103.85" r="2.10" fill="#c9c900" stroke="#2a2a00" stroke-width="0.55"/>
<circle cx="505.61" cy="106.75" r="2.06" fill="#c9c900" stroke="#2a2a00" stroke-width="0.55"/>
<circle cx="506.48" cy="109.54" r="2.11" fill="#c9c900" stroke="#2a2a00" stroke-width="0.55"/>
<circle cx="507.00" cy="112.09" r="1.97" fill="#c9c900" stroke="#2a2a00" stroke-width="0.55"/>
<circle cx="506.98" cy="114.69" r="1.92" fill="#c9c900" stroke="#2a2a00" stroke-width="0.55"/>
<circle cx="507.18" cy="117.63" r="1.90" fill="#c9c900" stroke="#2a2a00" stroke-width="0.55"/>
<circle cx="507.09" cy="120.21" r="2.04" fill="#c9c900" stroke="#2a2a00" stroke-width="0.55"/>
<circle cx="506.85" cy="122.78" r="1.94" fill="#c9c900" stroke="#2a2a00" stroke-width="0.55"/>
<circle cx="506.01" cy="125.28" r="1.98" fill="#c9c900" stroke="#2a2a00" stroke-width="0.55"/>
<circle cx="505.30" cy="127.76" r="2.12" fill="#c9c900" stroke="#2a2a00" stroke-width="0.55"/>
<circle cx="504.43" cy="130.41" r="2.06" fill="#c9c900" stroke="#2a2a00" stroke-width="0.55"/>
<circle cx="503.04" cy="133.35" r="2.06" fill="#c9c900" stroke="#2a2a00" stroke-width="0.55"/>
<circle cx="501.49" cy="135.79" r="1.97" fill="#c9c900" stroke="#2a2a00" stroke-width="0.55"/>
<circle cx="499.91" cy="137.92" r="1.95" fill="#c9c900" stroke="#2a2a00" stroke-width="0.55"/>
<circle cx="498.12" cy="140.03" r="1.97" fill="#c9c900" stroke="#2a2a00" stroke-width="0.55"/>
<circle cx="496.14" cy="141.79" r="2.01" fill="#c9c900" stroke="#2a2a00" stroke-width="0.55"/>
<circle cx="494.19" cy="143.51" r="2.10" fill="#c9c900" stroke="#2a2a00" stroke-width="0.55"/>
<circle cx="491.57" cy="145.09" r="2.01" fill="#c9c900" stroke="#2a2a00" stroke-width="0.55"/>
<circle cx="488.95" cy="146.69" r="1.99" fill="#c9c900" stroke="#2a2a00" stroke-width="0.55"/>
<circle cx="485.85" cy="147.59" r="2.15" fill="#c9c900" stroke="#2a2a00" stroke-width="0.55"/>
<circle cx="483.29" cy="148.54" r="1.96" fill="#c9c900" stroke="#2a2a00" stroke-width="0.55"/>
<circle cx="480.66" cy="149.36" r="2.05" fill="#c9c900" stroke="#2a2a00" stroke-width="0.55"/>
<circle cx="477.93" cy="149.70" r="2.07" fill="#c9c900" stroke="#2a2a00" stroke-width="0.55"/>
<circle cx="474.81" cy="149.77" r="2.06" fill="#c9c900" stroke="#2a2a00" stroke-width="0.55"/>
<circle cx="471.95" cy="149.83" r="1.99" fill="#c9c900" stroke="#2a2a00" stroke-width="0.55"/>
<circle cx="469.43" cy="149.40" r="1.96" fill="#c9c900" stroke="#2a2a00" stroke-width="0.55"/>
<circle cx="466.22" cy="148.85" r="1.95" fill="#c9c900" stroke="#2a2a00" stroke-width="0.55"/>
<circle cx="463.78" cy="148.00" r="2.12" fill="#c9c900" stroke="#2a2a00" stroke-width="0.55"/>
<circle cx="460.71" cy="146.83" r="1.95" fill="#c9c900" stroke="#2a2a00" stroke-width="0.55"/>
<circle cx="458.41" cy="145.54" r="1.93" fill="#c9c900" stroke="#2a2a00" stroke-width="0.55"/>
<circle cx="456.06" cy="143.84" r="2.07" fill="#c9c900" stroke="#2a2a00" stroke-width="0.55"/>
<circle cx="453.86" cy="142.23" r="2.09" fill="#c9c900" stroke="#2a2a00" stroke-width="0.55"/>
<circle cx="451.81" cy="140.36" r="1.90" fill="#c9c900" stroke="#2a2a00" stroke-width="0.55"/>
<circle cx="449.70" cy="138.31" r="2.04" fill="#c9c900" stroke="#2a2a00" stroke-width="0.55"/>
<circle cx="447.99" cy="135.99" r="1.90" fill="#c9c900" stroke="#2a2a00" stroke-width="0.55"/>
<circle cx="446.53" cy="133.72" r="2.15" fill="#c9c900" stroke="#2a2a00" stroke-width="0.55"/>
<circle cx="445.29" cy="131.43" r="2.07" fill="#c9c900" stroke="#2a2a00" stroke-width="0.55"/>
<circle cx="443.95" cy="128.63" r="2.03" fill="#c9c900" stroke="#2a2a00" stroke-width="0.55"/>
<circle cx="466.20" cy="117.00" r="3.00" fill="#c9c900" stroke="#2a2a00" stroke-width="0.55"/>
<circle cx="458.14" cy="114.85" r="3.00" fill="#c9c900" stroke="#2a2a00" stroke-width="0.55"/>
<circle cx="469.48" cy="101.28" r="2.50" fill="#c9c900" stroke="#2a2a00" stroke-width="0.55"/>
<circle cx="477.65" cy="100.80" r="2.80" fill="#c9c900" stroke="#2a2a00" stroke-width="0.55"/>
<circle cx="482.14" cy="102.38" r="1.30" fill="#c9c900" stroke="#2a2a00" stroke-width="0.55"/>
<circle cx="486.41" cy="105.58" r="2.50" fill="#c9c900" stroke="#2a2a00" stroke-width="0.55"/>
<circle cx="490.52" cy="113.04" r="2.50" fill="#c9c900" stroke="#2a2a00" stroke-width="0.55"/>
<circle cx="479.98" cy="132.56" r="2.80" fill="#c9c900" stroke="#2a2a00" stroke-width="0.55"/>
<circle cx="450.01" cy="114.17" r="2.80" fill="#c9c900" stroke="#2a2a00" stroke-width="0.55"/>
<circle cx="455.48" cy="101.32" r="3.00" fill="#c9c900" stroke="#2a2a00" stroke-width="0.55"/>
<circle cx="478.57" cy="92.69" r="2.80" fill="#c9c900" stroke="#2a2a00" stroke-width="0.55"/>
<circle cx="493.27" cy="101.02" r="2.50" fill="#c9c900" stroke="#2a2a00" stroke-width="0.55"/>
<circle cx="492.41" cy="133.94" r="2.80" fill="#c9c900" stroke="#2a2a00" stroke-width="0.55"/>
<circle cx="467.38" cy="140.60" r="2.50" fill="#c9c900" stroke="#2a2a00" stroke-width="0.55"/>
<circle cx="442.02" cy="112.44" r="2.60" fill="#c9c900" stroke="#2a2a00" stroke-width="0.55"/>
<circle cx="447.63" cy="98.19" r="2.80" fill="#c9c900" stroke="#2a2a00" stroke-width="0.55"/>
<circle cx="484.42" cy="85.74" r="2.50" fill="#c9c900" stroke="#2a2a00" stroke-width="0.55"/>
<circle cx="465.46" cy="148.53" r="2.00" fill="#c9c900" stroke="#2a2a00" stroke-width="0.55"/>
<circle cx="494.10" cy="143.30" r="2.20" fill="#c9c900" stroke="#2a2a00" stroke-width="0.55"/>
<circle cx="434.72" cy="107.08" r="2.40" fill="#c9c900" stroke="#2a2a00" stroke-width="0.55"/>
<circle cx="433.60" cy="114.14" r="2.30" fill="#c9c900" stroke="#2a2a00" stroke-width="0.55"/>
<circle cx="433.94" cy="122.99" r="2.50" fill="#c9c900" stroke="#2a2a00" stroke-width="0.55"/>
<circle cx="465.51" cy="130.84" r="2.10" fill="#c9c900" stroke="#2a2a00" stroke-width="0.55"/>
<circle cx="463.68" cy="129.45" r="2.10" fill="#c9c900" stroke="#2a2a00" stroke-width="0.55"/>
<circle cx="462.05" cy="127.82" r="2.10" fill="#c9c900" stroke="#2a2a00" stroke-width="0.55"/>
<circle cx="460.82" cy="126.23" r="2.10" fill="#c9c900" stroke="#2a2a00" stroke-width="0.55"/>
<circle cx="459.67" cy="136.69" r="2.20" fill="#c9c900" stroke="#2a2a00" stroke-width="0.55"/>
<circle cx="457.38" cy="134.73" r="2.20" fill="#c9c900" stroke="#2a2a00" stroke-width="0.55"/>
<circle cx="455.34" cy="132.51" r="2.20" fill="#c9c900" stroke="#2a2a00" stroke-width="0.55"/>
<circle cx="453.60" cy="130.06" r="2.20" fill="#c9c900" stroke="#2a2a00" stroke-width="0.55"/>
<circle cx="452.16" cy="127.42" r="2.20" fill="#c9c900" stroke="#2a2a00" stroke-width="0.55"/>
<circle cx="471.58" cy="92.52" r="2.20" fill="#c9c900" stroke="#2a2a00" stroke-width="0.55"/>
<circle cx="484.53" cy="94.48" r="2.20" fill="#c9c900" stroke="#2a2a00" stroke-width="0.55"/>
<circle cx="487.93" cy="96.33" r="2.20" fill="#c9c900" stroke="#2a2a00" stroke-width="0.55"/>
<circle cx="490.67" cy="98.40" r="2.20" fill="#c9c900" stroke="#2a2a00" stroke-width="0.55"/>
<circle cx="482.12" cy="93.56" r="2.10" fill="#c9c900" stroke="#2a2a00" stroke-width="0.55"/>
<circle cx="494.94" cy="103.22" r="2.10" fill="#c9c900" stroke="#2a2a00" stroke-width="0.55"/>
<circle cx="463.31" cy="95.04" r="2.10" fill="#c9c900" stroke="#2a2a00" stroke-width="0.55"/>
<circle cx="465.67" cy="93.99" r="2.10" fill="#c9c900" stroke="#2a2a00" stroke-width="0.55"/>
<circle cx="468.12" cy="93.19" r="2.10" fill="#c9c900" stroke="#2a2a00" stroke-width="0.55"/>
<circle cx="474.07" cy="92.35" r="2.10" fill="#c9c900" stroke="#2a2a00" stroke-width="0.55"/>
<circle cx="476.22" cy="92.41" r="2.10" fill="#c9c900" stroke="#2a2a00" stroke-width="0.55"/>
<circle cx="498.07" cy="109.79" r="2.10" fill="#c9c900" stroke="#2a2a00" stroke-width="0.55"/>
<circle cx="498.78" cy="112.72" r="2.10" fill="#c9c900" stroke="#2a2a00" stroke-width="0.55"/>
<circle cx="498.78" cy="121.28" r="2.10" fill="#c9c900" stroke="#2a2a00" stroke-width="0.55"/>
<circle cx="498.20" cy="123.79" r="2.10" fill="#c9c900" stroke="#2a2a00" stroke-width="0.55"/>
<circle cx="497.36" cy="126.23" r="2.10" fill="#c9c900" stroke="#2a2a00" stroke-width="0.55"/>
<circle cx="474.50" cy="117.00" r="0.60" fill="#c9c900" stroke="none" stroke-width="0.55"/>
<line x1="443.46" y1="90.21" x2="430.56" y2="79.60" stroke="#e01818" stroke-width="0.9"/>
<line x1="427.04" y1="103.66" x2="418.95" y2="101.39" stroke="#0a9a0a" stroke-width="0.9"/>
<line x1="429.22" y1="136.50" x2="421.51" y2="139.82" stroke="#0a9a0a" stroke-width="0.9"/>
<line x1="464.46" y1="103.91" x2="459.32" y2="97.58" stroke="#e01818" stroke-width="0.9"/>
<line x1="490.93" y1="118.50" x2="499.11" y2="118.46" stroke="#e01818" stroke-width="0.9"/>
<circle cx="464.46" cy="103.91" r="2.20" fill="#e01818" stroke="#600" stroke-width="0.3"/>
<circle cx="459.32" cy="97.58" r="2.20" fill="#e01818" stroke="#600" stroke-width="0.3"/>
<circle cx="496.52" cy="105.92" r="2.20" fill="#e01818" stroke="#600" stroke-width="0.3"/>
<circle cx="490.93" cy="118.50" r="2.50" fill="#e01818" stroke="#600" stroke-width="0.3"/>
<circle cx="499.11" cy="118.46" r="2.50" fill="#e01818" stroke="#600" stroke-width="0.3"/>
<circle cx="479.37" cy="141.16" r="2.50" fill="#e01818" stroke="#600" stroke-width="0.3"/>
<circle cx="460.34" cy="155.48" r="1.30" fill="#e01818" stroke="#600" stroke-width="0.3"/>
<circle cx="443.46" cy="90.21" r="2.00" fill="#e01818" stroke="#600" stroke-width="0.3"/>
<circle cx="437.12" cy="84.85" r="2.00" fill="#e01818" stroke="#600" stroke-width="0.3"/>
<circle cx="430.56" cy="79.60" r="2.00" fill="#e01818" stroke="#600" stroke-width="0.3"/>
<circle cx="440.32" cy="81.48" r="0.90" fill="#0a9a0a" stroke="#600" stroke-width="0.3"/>
<circle cx="427.04" cy="103.66" r="1.60" fill="#0a9a0a" stroke="#600" stroke-width="0.3"/>
<circle cx="418.95" cy="101.39" r="1.60" fill="#0a9a0a" stroke="#600" stroke-width="0.3"/>
<circle cx="429.22" cy="136.50" r="1.60" fill="#0a9a0a" stroke="#600" stroke-width="0.3"/>
<circle cx="421.51" cy="139.82" r="1.60" fill="#0a9a0a" stroke="#600" stroke-width="0.3"/>
</g>
<text transform="translate(420.20,47.20) rotate(-37.80)" x="0" y="0" font-size="4.0" text-anchor="middle" dominant-baseline="central" fill="#86404c" textLength="38.80" lengthAdjust="spacingAndGlyphs">p__Deinococcus_Thermus</text>
<text transform="translate(423.60,51.30) rotate(-37.00)" x="0" y="0" font-size="4.0" text-anchor="middle" dominant-baseline="central" fill="#86404c" textLength="22.30" lengthAdjust="spacingAndGlyphs">c__Deinococci</text>
<text transform="translate(548.40,79.30) rotate(60.00)" x="0" y="0" font-size="4.0" text-anchor="middle" dominant-baseline="central" fill="#86404c" textLength="27.50" lengthAdjust="spacingAndGlyphs">c__Acidimicrobiia</text>
<text transform="translate(562.40,124.30) rotate(92.00)" x="0" y="0" font-size="4.0" text-anchor="middle" dominant-baseline="central" fill="#86404c" textLength="31.50" lengthAdjust="spacingAndGlyphs">p__Verrucomicrobia</text>
<text transform="translate(556.70,124.00) rotate(92.00)" x="0" y="0" font-size="4.0" text-anchor="middle" dominant-baseline="central" fill="#86404c" textLength="31.00" lengthAdjust="spacingAndGlyphs">c__Verrucomicrobiae</text>
<text transform="translate(489.20,198.70) rotate(169.30)" x="0" y="0" font-size="4.0" text-anchor="middle" dominant-baseline="central" fill="#86404c" textLength="33.30" lengthAdjust="spacingAndGlyphs">c__Deltaproteobacteria</text>
<text transform="translate(447.20,183.40) rotate(20.00)" x="0" y="0" font-size="3.0" text-anchor="middle" dominant-baseline="central" fill="#86404c" textLength="0.90" lengthAdjust="spacingAndGlyphs">i</text>
<text transform="translate(419.50,69.80) rotate(50.00)" x="0" y="0" font-size="3.0" text-anchor="middle" dominant-baseline="central" fill="#86404c" textLength="1.40" lengthAdjust="spacingAndGlyphs">d</text>
<text transform="translate(428.80,68.30) rotate(45.00)" x="0" y="0" font-size="3.0" text-anchor="middle" dominant-baseline="central" fill="#86404c" textLength="1.30" lengthAdjust="spacingAndGlyphs">a</text>
<text transform="translate(409.20,98.90) rotate(15.00)" x="0" y="0" font-size="3.0" text-anchor="middle" dominant-baseline="central" fill="#86404c" textLength="1.40" lengthAdjust="spacingAndGlyphs">h</text>
<text transform="translate(411.50,143.00) rotate(-25.00)" x="0" y="0" font-size="3.0" text-anchor="middle" dominant-baseline="central" fill="#86404c" textLength="1.00" lengthAdjust="spacingAndGlyphs">f</text>
<rect x="581.7" y="23.80" width="6.6" height="2.6" fill="#0a9a0a" stroke="#111" stroke-width="0.55"/>
<text x="591.50" y="26.45" font-size="3.9" text-anchor="start" fill="#000" textLength="30.90" lengthAdjust="spacingAndGlyphs">a: g__Oceanobacillus</text>
<rect x="581.7" y="28.97" width="6.6" height="2.6" fill="#e01818" stroke="#111" stroke-width="0.55"/>
<text x="591.50" y="31.62" font-size="3.9" text-anchor="start" fill="#000" textLength="68.40" lengthAdjust="spacingAndGlyphs">b: s__uncultured_bacterium_g_Staphylococcus</text>
<rect x="581.7" y="34.14" width="6.6" height="2.6" fill="#e01818" stroke="#111" stroke-width="0.55"/>
<text x="591.50" y="36.79" font-size="3.9" text-anchor="start" fill="#000" textLength="31.40" lengthAdjust="spacingAndGlyphs">c: g__Staphylococcus</text>
<rect x="581.7" y="39.31" width="6.6" height="2.6" fill="#e01818" stroke="#111" stroke-width="0.55"/>
<text x="591.50" y="41.96" font-size="3.9" text-anchor="start" fill="#000" textLength="36.50" lengthAdjust="spacingAndGlyphs">d: f__Staphylococcaceae</text>
<rect x="581.7" y="44.48" width="6.6" height="2.6" fill="#0a9a0a" stroke="#111" stroke-width="0.55"/>
<text x="591.50" y="47.13" font-size="3.9" text-anchor="start" fill="#000" textLength="91.50" lengthAdjust="spacingAndGlyphs">e: s__uncultured_bacterium_g_Lachnospiraceae_FCS020_group</text>
<rect x="581.7" y="49.65" width="6.6" height="2.6" fill="#0a9a0a" stroke="#111" stroke-width="0.55"/>
<text x="591.50" y="52.30" font-size="3.9" text-anchor="start" fill="#000" textLength="56.30" lengthAdjust="spacingAndGlyphs">f: g__Lachnospiraceae_FCS020_group</text>
<rect x="581.7" y="54.82" width="6.6" height="2.6" fill="#0a9a0a" stroke="#111" stroke-width="0.55"/>
<text x="591.50" y="57.47" font-size="3.9" text-anchor="start" fill="#000" textLength="65.10" lengthAdjust="spacingAndGlyphs">g: s__uncultured_bacterium_g_Ileibacterium</text>
<rect x="581.7" y="59.99" width="6.6" height="2.6" fill="#0a9a0a" stroke="#111" stroke-width="0.55"/>
<text x="591.50" y="62.64" font-size="3.9" text-anchor="start" fill="#000" textLength="28.40" lengthAdjust="spacingAndGlyphs">h: g__Ileibacterium</text>
<rect x="581.7" y="65.16" width="6.6" height="2.6" fill="#e01818" stroke="#111" stroke-width="0.55"/>
<text x="591.50" y="67.81" font-size="3.9" text-anchor="start" fill="#000" textLength="31.40" lengthAdjust="spacingAndGlyphs">i: f__Beijerinckiaceae</text>
</svg>
</body></html>
